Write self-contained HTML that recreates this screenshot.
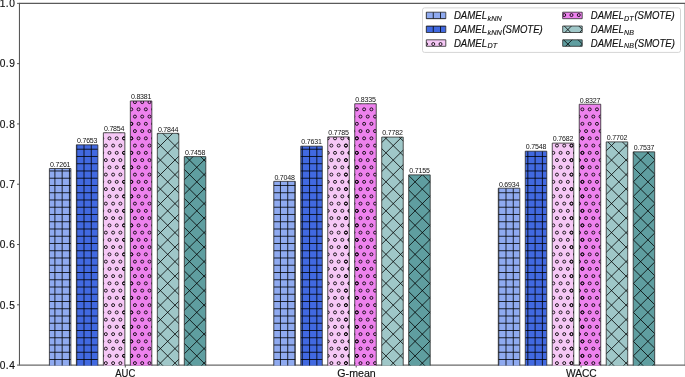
<!DOCTYPE html><html><head><meta charset="utf-8"><style>html,body{margin:0;padding:0;background:#fff;overflow:hidden}svg{display:block;will-change:transform}</style></head><body>
<svg width="685" height="377" viewBox="0 0 685 377" font-family='"Liberation Sans", sans-serif'>
<defs>
<clipPath id="cplus"><rect x="49.4" y="168.49" width="21.5" height="197.06"/><rect x="76.38" y="144.85" width="21.5" height="220.7"/><rect x="273.8" y="181.33" width="21.5" height="184.22"/><rect x="300.78" y="146.18" width="21.5" height="219.37"/><rect x="498.3" y="188.2" width="21.5" height="177.35"/><rect x="525.28" y="151.19" width="21.5" height="214.36"/><rect x="426.3" y="12.2" width="19.5" height="6.5"/><rect x="426.3" y="26" width="19.5" height="6.5"/></clipPath>
<clipPath id="ccirc"><rect x="103.36" y="132.74" width="21.5" height="232.81"/><rect x="130.34" y="100.96" width="21.5" height="264.59"/><rect x="327.76" y="136.9" width="21.5" height="228.65"/><rect x="354.74" y="103.74" width="21.5" height="261.81"/><rect x="552.26" y="143.11" width="21.5" height="222.44"/><rect x="579.24" y="104.22" width="21.5" height="261.33"/><rect x="426.3" y="39.8" width="19.5" height="6.5"/><rect x="562.7" y="12.2" width="19.5" height="6.5"/></clipPath>
<clipPath id="cxx"><rect x="157.32" y="133.34" width="21.5" height="232.21"/><rect x="184.3" y="156.61" width="21.5" height="208.94"/><rect x="381.72" y="137.08" width="21.5" height="228.47"/><rect x="408.7" y="174.88" width="21.5" height="190.67"/><rect x="606.22" y="141.9" width="21.5" height="223.65"/><rect x="633.2" y="151.85" width="21.5" height="213.7"/><rect x="562.7" y="26" width="19.5" height="6.5"/><rect x="562.7" y="39.8" width="19.5" height="6.5"/></clipPath>
</defs>
<rect x="422.5" y="7.9" width="258" height="44.5" rx="2" ry="2" fill="#fff" stroke="#d5d5d5" stroke-width="1"/>
<path d="M684.5 3.35V365.6" stroke="#c4c4c4" stroke-width="1" fill="none"/>
<path d="M19.45 3.35V365.1" stroke="#555" stroke-width="1.05" fill="none"/>
<path d="M18.95 3.35H685" stroke="#5a5a5a" stroke-width="1.05" fill="none"/>
<path d="M18.95 365.1H685" stroke="#6a6a6a" stroke-width="1.05" fill="none"/>
<path d="M17.05 365.1H19.45M17.05 304.81H19.45M17.05 244.52H19.45M17.05 184.23H19.45M17.05 123.93H19.45M17.05 63.64H19.45M17.05 3.35H19.45" stroke="#555" stroke-width="1"/>
<g font-size="10.2" fill="#111" stroke="#111" stroke-width="0.15"><text x="14.8" y="368.9" text-anchor="end" textLength="15.1" lengthAdjust="spacing">0.4</text><text x="14.8" y="308.61" text-anchor="end" textLength="15.1" lengthAdjust="spacing">0.5</text><text x="14.8" y="248.32" text-anchor="end" textLength="15.1" lengthAdjust="spacing">0.6</text><text x="14.8" y="188.03" text-anchor="end" textLength="15.1" lengthAdjust="spacing">0.7</text><text x="14.8" y="127.73" text-anchor="end" textLength="15.1" lengthAdjust="spacing">0.8</text><text x="14.8" y="67.44" text-anchor="end" textLength="15.1" lengthAdjust="spacing">0.9</text><text x="14.8" y="7.15" text-anchor="end" textLength="15.1" lengthAdjust="spacing">1.0</text></g>
<path d="M125.3 365.1V367.5M356.2 365.1V367.5M581.1 365.1V367.5" stroke="#555" stroke-width="1"/>
<g font-size="10.2" fill="#111" stroke="#111" stroke-width="0.15" text-anchor="middle"><text x="125.3" y="377.0" textLength="20.0" lengthAdjust="spacingAndGlyphs">AUC</text><text x="356.55" y="377.0" textLength="38.4" lengthAdjust="spacingAndGlyphs">G-mean</text><text x="581.35" y="377.0" textLength="30.8" lengthAdjust="spacingAndGlyphs">WACC</text></g>
<rect x="49.4" y="168.49" width="21.5" height="197.06" fill="#8faaf0"/><rect x="76.38" y="144.85" width="21.5" height="220.7" fill="#4169e1"/><rect x="103.36" y="132.74" width="21.5" height="232.81" fill="#f6c8f6"/><rect x="130.34" y="100.96" width="21.5" height="264.59" fill="#ee82ee"/><rect x="157.32" y="133.34" width="21.5" height="232.21" fill="#9fc7c8"/><rect x="184.3" y="156.61" width="21.5" height="208.94" fill="#5f9ea0"/><rect x="273.8" y="181.33" width="21.5" height="184.22" fill="#8faaf0"/><rect x="300.78" y="146.18" width="21.5" height="219.37" fill="#4169e1"/><rect x="327.76" y="136.9" width="21.5" height="228.65" fill="#f6c8f6"/><rect x="354.74" y="103.74" width="21.5" height="261.81" fill="#ee82ee"/><rect x="381.72" y="137.08" width="21.5" height="228.47" fill="#9fc7c8"/><rect x="408.7" y="174.88" width="21.5" height="190.67" fill="#5f9ea0"/><rect x="498.3" y="188.2" width="21.5" height="177.35" fill="#8faaf0"/><rect x="525.28" y="151.19" width="21.5" height="214.36" fill="#4169e1"/><rect x="552.26" y="143.11" width="21.5" height="222.44" fill="#f6c8f6"/><rect x="579.24" y="104.22" width="21.5" height="261.33" fill="#ee82ee"/><rect x="606.22" y="141.9" width="21.5" height="223.65" fill="#9fc7c8"/><rect x="633.2" y="151.85" width="21.5" height="213.7" fill="#5f9ea0"/><rect x="426.3" y="12.2" width="19.5" height="6.5" fill="#8faaf0"/><rect x="426.3" y="26" width="19.5" height="6.5" fill="#4169e1"/><rect x="426.3" y="39.8" width="19.5" height="6.5" fill="#f6c8f6"/><rect x="562.7" y="12.2" width="19.5" height="6.5" fill="#ee82ee"/><rect x="562.7" y="26" width="19.5" height="6.5" fill="#9fc7c8"/><rect x="562.7" y="39.8" width="19.5" height="6.5" fill="#5f9ea0"/>
<path clip-path="url(#cplus)" d="M3.96 0V377M11.24 0V377M18.52 0V377M25.79 0V377M33.07 0V377M40.34 0V377M47.62 0V377M54.90 0V377M62.17 0V377M69.45 0V377M76.72 0V377M84.00 0V377M91.27 0V377M98.55 0V377M105.83 0V377M113.10 0V377M120.38 0V377M127.65 0V377M134.93 0V377M142.21 0V377M149.48 0V377M156.76 0V377M164.03 0V377M171.31 0V377M178.59 0V377M185.86 0V377M193.14 0V377M200.41 0V377M207.69 0V377M214.97 0V377M222.24 0V377M229.52 0V377M236.79 0V377M244.07 0V377M251.35 0V377M258.62 0V377M265.90 0V377M273.18 0V377M280.45 0V377M287.73 0V377M295.00 0V377M302.28 0V377M309.56 0V377M316.83 0V377M324.11 0V377M331.38 0V377M338.66 0V377M345.94 0V377M353.21 0V377M360.49 0V377M367.76 0V377M375.04 0V377M382.31 0V377M389.59 0V377M396.87 0V377M404.14 0V377M411.42 0V377M418.69 0V377M425.97 0V377M433.25 0V377M440.52 0V377M447.80 0V377M455.07 0V377M462.35 0V377M469.63 0V377M476.90 0V377M484.18 0V377M491.45 0V377M498.73 0V377M506.01 0V377M513.28 0V377M520.56 0V377M527.83 0V377M535.11 0V377M542.39 0V377M549.66 0V377M556.94 0V377M564.21 0V377M571.49 0V377M578.77 0V377M586.04 0V377M593.32 0V377M600.59 0V377M607.87 0V377M615.15 0V377M622.42 0V377M629.70 0V377M636.97 0V377M644.25 0V377M651.53 0V377M658.80 0V377M666.08 0V377M673.35 0V377M680.63 0V377M0 4.19H685M0 11.44H685M0 18.69H685M0 25.94H685M0 33.20H685M0 40.45H685M0 47.70H685M0 54.95H685M0 62.20H685M0 69.45H685M0 76.70H685M0 83.96H685M0 91.21H685M0 98.46H685M0 105.71H685M0 112.96H685M0 120.21H685M0 127.47H685M0 134.72H685M0 141.97H685M0 149.22H685M0 156.47H685M0 163.72H685M0 170.97H685M0 178.23H685M0 185.48H685M0 192.73H685M0 199.98H685M0 207.23H685M0 214.48H685M0 221.74H685M0 228.99H685M0 236.24H685M0 243.49H685M0 250.74H685M0 257.99H685M0 265.24H685M0 272.50H685M0 279.75H685M0 287.00H685M0 294.25H685M0 301.50H685M0 308.75H685M0 316.00H685M0 323.26H685M0 330.51H685M0 337.76H685M0 345.01H685M0 352.26H685M0 359.51H685M0 366.76H685M0 374.02H685" stroke="#000" stroke-width="0.8" fill="none"/>
<path clip-path="url(#cxx)" d="M-380.60 -2.0L1.69 379.0M-366.05 -2.0L16.24 379.0M-351.50 -2.0L30.79 379.0M-336.94 -2.0L45.34 379.0M-322.39 -2.0L59.90 379.0M-307.84 -2.0L74.45 379.0M-293.29 -2.0L89.00 379.0M-278.74 -2.0L103.55 379.0M-264.18 -2.0L118.10 379.0M-249.63 -2.0L132.66 379.0M-235.08 -2.0L147.21 379.0M-220.53 -2.0L161.76 379.0M-205.98 -2.0L176.31 379.0M-191.42 -2.0L190.86 379.0M-176.87 -2.0L205.42 379.0M-162.32 -2.0L219.97 379.0M-147.77 -2.0L234.52 379.0M-133.22 -2.0L249.07 379.0M-118.66 -2.0L263.62 379.0M-104.11 -2.0L278.18 379.0M-89.56 -2.0L292.73 379.0M-75.01 -2.0L307.28 379.0M-60.46 -2.0L321.83 379.0M-45.90 -2.0L336.38 379.0M-31.35 -2.0L350.94 379.0M-16.80 -2.0L365.49 379.0M2.90 -2.0L-379.39 379.0M-2.25 -2.0L380.04 379.0M17.45 -2.0L-364.84 379.0M12.30 -2.0L394.59 379.0M32.00 -2.0L-350.29 379.0M26.86 -2.0L409.14 379.0M46.55 -2.0L-335.73 379.0M41.41 -2.0L423.70 379.0M61.11 -2.0L-321.18 379.0M55.96 -2.0L438.25 379.0M75.66 -2.0L-306.63 379.0M70.51 -2.0L452.80 379.0M90.21 -2.0L-292.08 379.0M85.06 -2.0L467.35 379.0M104.76 -2.0L-277.53 379.0M99.62 -2.0L481.90 379.0M119.31 -2.0L-262.97 379.0M114.17 -2.0L496.46 379.0M133.87 -2.0L-248.42 379.0M128.72 -2.0L511.01 379.0M148.42 -2.0L-233.87 379.0M143.27 -2.0L525.56 379.0M162.97 -2.0L-219.32 379.0M157.82 -2.0L540.11 379.0M177.52 -2.0L-204.77 379.0M172.38 -2.0L554.66 379.0M192.07 -2.0L-190.21 379.0M186.93 -2.0L569.22 379.0M206.63 -2.0L-175.66 379.0M201.48 -2.0L583.77 379.0M221.18 -2.0L-161.11 379.0M216.03 -2.0L598.32 379.0M235.73 -2.0L-146.56 379.0M230.58 -2.0L612.87 379.0M250.28 -2.0L-132.01 379.0M245.14 -2.0L627.42 379.0M264.83 -2.0L-117.45 379.0M259.69 -2.0L641.98 379.0M279.39 -2.0L-102.90 379.0M274.24 -2.0L656.53 379.0M293.94 -2.0L-88.35 379.0M288.79 -2.0L671.08 379.0M308.49 -2.0L-73.80 379.0M303.34 -2.0L685.63 379.0M323.04 -2.0L-59.25 379.0M317.90 -2.0L700.18 379.0M337.59 -2.0L-44.69 379.0M332.45 -2.0L714.74 379.0M352.15 -2.0L-30.14 379.0M347.00 -2.0L729.29 379.0M366.70 -2.0L-15.59 379.0M361.55 -2.0L743.84 379.0M381.25 -2.0L-1.04 379.0M376.10 -2.0L758.39 379.0M395.80 -2.0L13.51 379.0M390.66 -2.0L772.94 379.0M410.35 -2.0L28.07 379.0M405.21 -2.0L787.50 379.0M424.91 -2.0L42.62 379.0M419.76 -2.0L802.05 379.0M439.46 -2.0L57.17 379.0M434.31 -2.0L816.60 379.0M454.01 -2.0L71.72 379.0M448.86 -2.0L831.15 379.0M468.56 -2.0L86.27 379.0M463.42 -2.0L845.70 379.0M483.11 -2.0L100.83 379.0M477.97 -2.0L860.26 379.0M497.67 -2.0L115.38 379.0M492.52 -2.0L874.81 379.0M512.22 -2.0L129.93 379.0M507.07 -2.0L889.36 379.0M526.77 -2.0L144.48 379.0M521.62 -2.0L903.91 379.0M541.32 -2.0L159.03 379.0M536.18 -2.0L918.46 379.0M555.87 -2.0L173.59 379.0M550.73 -2.0L933.02 379.0M570.43 -2.0L188.14 379.0M565.28 -2.0L947.57 379.0M584.98 -2.0L202.69 379.0M579.83 -2.0L962.12 379.0M599.53 -2.0L217.24 379.0M594.38 -2.0L976.67 379.0M614.08 -2.0L231.79 379.0M608.94 -2.0L991.22 379.0M628.63 -2.0L246.35 379.0M623.49 -2.0L1005.78 379.0M643.19 -2.0L260.90 379.0M638.04 -2.0L1020.33 379.0M657.74 -2.0L275.45 379.0M652.59 -2.0L1034.88 379.0M672.29 -2.0L290.00 379.0M667.14 -2.0L1049.43 379.0M686.84 -2.0L304.55 379.0M681.70 -2.0L1063.98 379.0M701.39 -2.0L319.11 379.0M715.95 -2.0L333.66 379.0M730.50 -2.0L348.21 379.0M745.05 -2.0L362.76 379.0M759.60 -2.0L377.31 379.0M774.15 -2.0L391.87 379.0M788.71 -2.0L406.42 379.0M803.26 -2.0L420.97 379.0M817.81 -2.0L435.52 379.0M832.36 -2.0L450.07 379.0M846.91 -2.0L464.63 379.0M861.47 -2.0L479.18 379.0M876.02 -2.0L493.73 379.0M890.57 -2.0L508.28 379.0M905.12 -2.0L522.83 379.0M919.67 -2.0L537.39 379.0M934.23 -2.0L551.94 379.0M948.78 -2.0L566.49 379.0M963.33 -2.0L581.04 379.0M977.88 -2.0L595.59 379.0M992.43 -2.0L610.15 379.0M1006.99 -2.0L624.70 379.0M1021.54 -2.0L639.25 379.0M1036.09 -2.0L653.80 379.0M1050.64 -2.0L668.35 379.0M1065.19 -2.0L682.91 379.0" stroke="#000" stroke-width="0.8" fill="none"/>
<path clip-path="url(#ccirc)" d="M93.41 123.84a1.5 1.5 0 1 0 3.0 0a1.5 1.5 0 1 0 -3.0 0M100.69 123.84a1.5 1.5 0 1 0 3.0 0a1.5 1.5 0 1 0 -3.0 0M107.96 123.84a1.5 1.5 0 1 0 3.0 0a1.5 1.5 0 1 0 -3.0 0M115.24 123.84a1.5 1.5 0 1 0 3.0 0a1.5 1.5 0 1 0 -3.0 0M122.52 123.84a1.5 1.5 0 1 0 3.0 0a1.5 1.5 0 1 0 -3.0 0M129.79 123.84a1.5 1.5 0 1 0 3.0 0a1.5 1.5 0 1 0 -3.0 0M97.05 131.09a1.5 1.5 0 1 0 3.0 0a1.5 1.5 0 1 0 -3.0 0M104.33 131.09a1.5 1.5 0 1 0 3.0 0a1.5 1.5 0 1 0 -3.0 0M111.60 131.09a1.5 1.5 0 1 0 3.0 0a1.5 1.5 0 1 0 -3.0 0M118.88 131.09a1.5 1.5 0 1 0 3.0 0a1.5 1.5 0 1 0 -3.0 0M126.15 131.09a1.5 1.5 0 1 0 3.0 0a1.5 1.5 0 1 0 -3.0 0M93.41 138.34a1.5 1.5 0 1 0 3.0 0a1.5 1.5 0 1 0 -3.0 0M100.69 138.34a1.5 1.5 0 1 0 3.0 0a1.5 1.5 0 1 0 -3.0 0M107.96 138.34a1.5 1.5 0 1 0 3.0 0a1.5 1.5 0 1 0 -3.0 0M115.24 138.34a1.5 1.5 0 1 0 3.0 0a1.5 1.5 0 1 0 -3.0 0M122.52 138.34a1.5 1.5 0 1 0 3.0 0a1.5 1.5 0 1 0 -3.0 0M129.79 138.34a1.5 1.5 0 1 0 3.0 0a1.5 1.5 0 1 0 -3.0 0M97.05 145.59a1.5 1.5 0 1 0 3.0 0a1.5 1.5 0 1 0 -3.0 0M104.33 145.59a1.5 1.5 0 1 0 3.0 0a1.5 1.5 0 1 0 -3.0 0M111.60 145.59a1.5 1.5 0 1 0 3.0 0a1.5 1.5 0 1 0 -3.0 0M118.88 145.59a1.5 1.5 0 1 0 3.0 0a1.5 1.5 0 1 0 -3.0 0M126.15 145.59a1.5 1.5 0 1 0 3.0 0a1.5 1.5 0 1 0 -3.0 0M93.41 152.85a1.5 1.5 0 1 0 3.0 0a1.5 1.5 0 1 0 -3.0 0M100.69 152.85a1.5 1.5 0 1 0 3.0 0a1.5 1.5 0 1 0 -3.0 0M107.96 152.85a1.5 1.5 0 1 0 3.0 0a1.5 1.5 0 1 0 -3.0 0M115.24 152.85a1.5 1.5 0 1 0 3.0 0a1.5 1.5 0 1 0 -3.0 0M122.52 152.85a1.5 1.5 0 1 0 3.0 0a1.5 1.5 0 1 0 -3.0 0M129.79 152.85a1.5 1.5 0 1 0 3.0 0a1.5 1.5 0 1 0 -3.0 0M97.05 160.10a1.5 1.5 0 1 0 3.0 0a1.5 1.5 0 1 0 -3.0 0M104.33 160.10a1.5 1.5 0 1 0 3.0 0a1.5 1.5 0 1 0 -3.0 0M111.60 160.10a1.5 1.5 0 1 0 3.0 0a1.5 1.5 0 1 0 -3.0 0M118.88 160.10a1.5 1.5 0 1 0 3.0 0a1.5 1.5 0 1 0 -3.0 0M126.15 160.10a1.5 1.5 0 1 0 3.0 0a1.5 1.5 0 1 0 -3.0 0M93.41 167.35a1.5 1.5 0 1 0 3.0 0a1.5 1.5 0 1 0 -3.0 0M100.69 167.35a1.5 1.5 0 1 0 3.0 0a1.5 1.5 0 1 0 -3.0 0M107.96 167.35a1.5 1.5 0 1 0 3.0 0a1.5 1.5 0 1 0 -3.0 0M115.24 167.35a1.5 1.5 0 1 0 3.0 0a1.5 1.5 0 1 0 -3.0 0M122.52 167.35a1.5 1.5 0 1 0 3.0 0a1.5 1.5 0 1 0 -3.0 0M129.79 167.35a1.5 1.5 0 1 0 3.0 0a1.5 1.5 0 1 0 -3.0 0M97.05 174.60a1.5 1.5 0 1 0 3.0 0a1.5 1.5 0 1 0 -3.0 0M104.33 174.60a1.5 1.5 0 1 0 3.0 0a1.5 1.5 0 1 0 -3.0 0M111.60 174.60a1.5 1.5 0 1 0 3.0 0a1.5 1.5 0 1 0 -3.0 0M118.88 174.60a1.5 1.5 0 1 0 3.0 0a1.5 1.5 0 1 0 -3.0 0M126.15 174.60a1.5 1.5 0 1 0 3.0 0a1.5 1.5 0 1 0 -3.0 0M93.41 181.85a1.5 1.5 0 1 0 3.0 0a1.5 1.5 0 1 0 -3.0 0M100.69 181.85a1.5 1.5 0 1 0 3.0 0a1.5 1.5 0 1 0 -3.0 0M107.96 181.85a1.5 1.5 0 1 0 3.0 0a1.5 1.5 0 1 0 -3.0 0M115.24 181.85a1.5 1.5 0 1 0 3.0 0a1.5 1.5 0 1 0 -3.0 0M122.52 181.85a1.5 1.5 0 1 0 3.0 0a1.5 1.5 0 1 0 -3.0 0M129.79 181.85a1.5 1.5 0 1 0 3.0 0a1.5 1.5 0 1 0 -3.0 0M97.05 189.10a1.5 1.5 0 1 0 3.0 0a1.5 1.5 0 1 0 -3.0 0M104.33 189.10a1.5 1.5 0 1 0 3.0 0a1.5 1.5 0 1 0 -3.0 0M111.60 189.10a1.5 1.5 0 1 0 3.0 0a1.5 1.5 0 1 0 -3.0 0M118.88 189.10a1.5 1.5 0 1 0 3.0 0a1.5 1.5 0 1 0 -3.0 0M126.15 189.10a1.5 1.5 0 1 0 3.0 0a1.5 1.5 0 1 0 -3.0 0M93.41 196.35a1.5 1.5 0 1 0 3.0 0a1.5 1.5 0 1 0 -3.0 0M100.69 196.35a1.5 1.5 0 1 0 3.0 0a1.5 1.5 0 1 0 -3.0 0M107.96 196.35a1.5 1.5 0 1 0 3.0 0a1.5 1.5 0 1 0 -3.0 0M115.24 196.35a1.5 1.5 0 1 0 3.0 0a1.5 1.5 0 1 0 -3.0 0M122.52 196.35a1.5 1.5 0 1 0 3.0 0a1.5 1.5 0 1 0 -3.0 0M129.79 196.35a1.5 1.5 0 1 0 3.0 0a1.5 1.5 0 1 0 -3.0 0M97.05 203.61a1.5 1.5 0 1 0 3.0 0a1.5 1.5 0 1 0 -3.0 0M104.33 203.61a1.5 1.5 0 1 0 3.0 0a1.5 1.5 0 1 0 -3.0 0M111.60 203.61a1.5 1.5 0 1 0 3.0 0a1.5 1.5 0 1 0 -3.0 0M118.88 203.61a1.5 1.5 0 1 0 3.0 0a1.5 1.5 0 1 0 -3.0 0M126.15 203.61a1.5 1.5 0 1 0 3.0 0a1.5 1.5 0 1 0 -3.0 0M93.41 210.86a1.5 1.5 0 1 0 3.0 0a1.5 1.5 0 1 0 -3.0 0M100.69 210.86a1.5 1.5 0 1 0 3.0 0a1.5 1.5 0 1 0 -3.0 0M107.96 210.86a1.5 1.5 0 1 0 3.0 0a1.5 1.5 0 1 0 -3.0 0M115.24 210.86a1.5 1.5 0 1 0 3.0 0a1.5 1.5 0 1 0 -3.0 0M122.52 210.86a1.5 1.5 0 1 0 3.0 0a1.5 1.5 0 1 0 -3.0 0M129.79 210.86a1.5 1.5 0 1 0 3.0 0a1.5 1.5 0 1 0 -3.0 0M97.05 218.11a1.5 1.5 0 1 0 3.0 0a1.5 1.5 0 1 0 -3.0 0M104.33 218.11a1.5 1.5 0 1 0 3.0 0a1.5 1.5 0 1 0 -3.0 0M111.60 218.11a1.5 1.5 0 1 0 3.0 0a1.5 1.5 0 1 0 -3.0 0M118.88 218.11a1.5 1.5 0 1 0 3.0 0a1.5 1.5 0 1 0 -3.0 0M126.15 218.11a1.5 1.5 0 1 0 3.0 0a1.5 1.5 0 1 0 -3.0 0M93.41 225.36a1.5 1.5 0 1 0 3.0 0a1.5 1.5 0 1 0 -3.0 0M100.69 225.36a1.5 1.5 0 1 0 3.0 0a1.5 1.5 0 1 0 -3.0 0M107.96 225.36a1.5 1.5 0 1 0 3.0 0a1.5 1.5 0 1 0 -3.0 0M115.24 225.36a1.5 1.5 0 1 0 3.0 0a1.5 1.5 0 1 0 -3.0 0M122.52 225.36a1.5 1.5 0 1 0 3.0 0a1.5 1.5 0 1 0 -3.0 0M129.79 225.36a1.5 1.5 0 1 0 3.0 0a1.5 1.5 0 1 0 -3.0 0M97.05 232.61a1.5 1.5 0 1 0 3.0 0a1.5 1.5 0 1 0 -3.0 0M104.33 232.61a1.5 1.5 0 1 0 3.0 0a1.5 1.5 0 1 0 -3.0 0M111.60 232.61a1.5 1.5 0 1 0 3.0 0a1.5 1.5 0 1 0 -3.0 0M118.88 232.61a1.5 1.5 0 1 0 3.0 0a1.5 1.5 0 1 0 -3.0 0M126.15 232.61a1.5 1.5 0 1 0 3.0 0a1.5 1.5 0 1 0 -3.0 0M93.41 239.86a1.5 1.5 0 1 0 3.0 0a1.5 1.5 0 1 0 -3.0 0M100.69 239.86a1.5 1.5 0 1 0 3.0 0a1.5 1.5 0 1 0 -3.0 0M107.96 239.86a1.5 1.5 0 1 0 3.0 0a1.5 1.5 0 1 0 -3.0 0M115.24 239.86a1.5 1.5 0 1 0 3.0 0a1.5 1.5 0 1 0 -3.0 0M122.52 239.86a1.5 1.5 0 1 0 3.0 0a1.5 1.5 0 1 0 -3.0 0M129.79 239.86a1.5 1.5 0 1 0 3.0 0a1.5 1.5 0 1 0 -3.0 0M97.05 247.12a1.5 1.5 0 1 0 3.0 0a1.5 1.5 0 1 0 -3.0 0M104.33 247.12a1.5 1.5 0 1 0 3.0 0a1.5 1.5 0 1 0 -3.0 0M111.60 247.12a1.5 1.5 0 1 0 3.0 0a1.5 1.5 0 1 0 -3.0 0M118.88 247.12a1.5 1.5 0 1 0 3.0 0a1.5 1.5 0 1 0 -3.0 0M126.15 247.12a1.5 1.5 0 1 0 3.0 0a1.5 1.5 0 1 0 -3.0 0M93.41 254.37a1.5 1.5 0 1 0 3.0 0a1.5 1.5 0 1 0 -3.0 0M100.69 254.37a1.5 1.5 0 1 0 3.0 0a1.5 1.5 0 1 0 -3.0 0M107.96 254.37a1.5 1.5 0 1 0 3.0 0a1.5 1.5 0 1 0 -3.0 0M115.24 254.37a1.5 1.5 0 1 0 3.0 0a1.5 1.5 0 1 0 -3.0 0M122.52 254.37a1.5 1.5 0 1 0 3.0 0a1.5 1.5 0 1 0 -3.0 0M129.79 254.37a1.5 1.5 0 1 0 3.0 0a1.5 1.5 0 1 0 -3.0 0M97.05 261.62a1.5 1.5 0 1 0 3.0 0a1.5 1.5 0 1 0 -3.0 0M104.33 261.62a1.5 1.5 0 1 0 3.0 0a1.5 1.5 0 1 0 -3.0 0M111.60 261.62a1.5 1.5 0 1 0 3.0 0a1.5 1.5 0 1 0 -3.0 0M118.88 261.62a1.5 1.5 0 1 0 3.0 0a1.5 1.5 0 1 0 -3.0 0M126.15 261.62a1.5 1.5 0 1 0 3.0 0a1.5 1.5 0 1 0 -3.0 0M93.41 268.87a1.5 1.5 0 1 0 3.0 0a1.5 1.5 0 1 0 -3.0 0M100.69 268.87a1.5 1.5 0 1 0 3.0 0a1.5 1.5 0 1 0 -3.0 0M107.96 268.87a1.5 1.5 0 1 0 3.0 0a1.5 1.5 0 1 0 -3.0 0M115.24 268.87a1.5 1.5 0 1 0 3.0 0a1.5 1.5 0 1 0 -3.0 0M122.52 268.87a1.5 1.5 0 1 0 3.0 0a1.5 1.5 0 1 0 -3.0 0M129.79 268.87a1.5 1.5 0 1 0 3.0 0a1.5 1.5 0 1 0 -3.0 0M97.05 276.12a1.5 1.5 0 1 0 3.0 0a1.5 1.5 0 1 0 -3.0 0M104.33 276.12a1.5 1.5 0 1 0 3.0 0a1.5 1.5 0 1 0 -3.0 0M111.60 276.12a1.5 1.5 0 1 0 3.0 0a1.5 1.5 0 1 0 -3.0 0M118.88 276.12a1.5 1.5 0 1 0 3.0 0a1.5 1.5 0 1 0 -3.0 0M126.15 276.12a1.5 1.5 0 1 0 3.0 0a1.5 1.5 0 1 0 -3.0 0M93.41 283.37a1.5 1.5 0 1 0 3.0 0a1.5 1.5 0 1 0 -3.0 0M100.69 283.37a1.5 1.5 0 1 0 3.0 0a1.5 1.5 0 1 0 -3.0 0M107.96 283.37a1.5 1.5 0 1 0 3.0 0a1.5 1.5 0 1 0 -3.0 0M115.24 283.37a1.5 1.5 0 1 0 3.0 0a1.5 1.5 0 1 0 -3.0 0M122.52 283.37a1.5 1.5 0 1 0 3.0 0a1.5 1.5 0 1 0 -3.0 0M129.79 283.37a1.5 1.5 0 1 0 3.0 0a1.5 1.5 0 1 0 -3.0 0M97.05 290.62a1.5 1.5 0 1 0 3.0 0a1.5 1.5 0 1 0 -3.0 0M104.33 290.62a1.5 1.5 0 1 0 3.0 0a1.5 1.5 0 1 0 -3.0 0M111.60 290.62a1.5 1.5 0 1 0 3.0 0a1.5 1.5 0 1 0 -3.0 0M118.88 290.62a1.5 1.5 0 1 0 3.0 0a1.5 1.5 0 1 0 -3.0 0M126.15 290.62a1.5 1.5 0 1 0 3.0 0a1.5 1.5 0 1 0 -3.0 0M93.41 297.88a1.5 1.5 0 1 0 3.0 0a1.5 1.5 0 1 0 -3.0 0M100.69 297.88a1.5 1.5 0 1 0 3.0 0a1.5 1.5 0 1 0 -3.0 0M107.96 297.88a1.5 1.5 0 1 0 3.0 0a1.5 1.5 0 1 0 -3.0 0M115.24 297.88a1.5 1.5 0 1 0 3.0 0a1.5 1.5 0 1 0 -3.0 0M122.52 297.88a1.5 1.5 0 1 0 3.0 0a1.5 1.5 0 1 0 -3.0 0M129.79 297.88a1.5 1.5 0 1 0 3.0 0a1.5 1.5 0 1 0 -3.0 0M97.05 305.13a1.5 1.5 0 1 0 3.0 0a1.5 1.5 0 1 0 -3.0 0M104.33 305.13a1.5 1.5 0 1 0 3.0 0a1.5 1.5 0 1 0 -3.0 0M111.60 305.13a1.5 1.5 0 1 0 3.0 0a1.5 1.5 0 1 0 -3.0 0M118.88 305.13a1.5 1.5 0 1 0 3.0 0a1.5 1.5 0 1 0 -3.0 0M126.15 305.13a1.5 1.5 0 1 0 3.0 0a1.5 1.5 0 1 0 -3.0 0M93.41 312.38a1.5 1.5 0 1 0 3.0 0a1.5 1.5 0 1 0 -3.0 0M100.69 312.38a1.5 1.5 0 1 0 3.0 0a1.5 1.5 0 1 0 -3.0 0M107.96 312.38a1.5 1.5 0 1 0 3.0 0a1.5 1.5 0 1 0 -3.0 0M115.24 312.38a1.5 1.5 0 1 0 3.0 0a1.5 1.5 0 1 0 -3.0 0M122.52 312.38a1.5 1.5 0 1 0 3.0 0a1.5 1.5 0 1 0 -3.0 0M129.79 312.38a1.5 1.5 0 1 0 3.0 0a1.5 1.5 0 1 0 -3.0 0M97.05 319.63a1.5 1.5 0 1 0 3.0 0a1.5 1.5 0 1 0 -3.0 0M104.33 319.63a1.5 1.5 0 1 0 3.0 0a1.5 1.5 0 1 0 -3.0 0M111.60 319.63a1.5 1.5 0 1 0 3.0 0a1.5 1.5 0 1 0 -3.0 0M118.88 319.63a1.5 1.5 0 1 0 3.0 0a1.5 1.5 0 1 0 -3.0 0M126.15 319.63a1.5 1.5 0 1 0 3.0 0a1.5 1.5 0 1 0 -3.0 0M93.41 326.88a1.5 1.5 0 1 0 3.0 0a1.5 1.5 0 1 0 -3.0 0M100.69 326.88a1.5 1.5 0 1 0 3.0 0a1.5 1.5 0 1 0 -3.0 0M107.96 326.88a1.5 1.5 0 1 0 3.0 0a1.5 1.5 0 1 0 -3.0 0M115.24 326.88a1.5 1.5 0 1 0 3.0 0a1.5 1.5 0 1 0 -3.0 0M122.52 326.88a1.5 1.5 0 1 0 3.0 0a1.5 1.5 0 1 0 -3.0 0M129.79 326.88a1.5 1.5 0 1 0 3.0 0a1.5 1.5 0 1 0 -3.0 0M97.05 334.13a1.5 1.5 0 1 0 3.0 0a1.5 1.5 0 1 0 -3.0 0M104.33 334.13a1.5 1.5 0 1 0 3.0 0a1.5 1.5 0 1 0 -3.0 0M111.60 334.13a1.5 1.5 0 1 0 3.0 0a1.5 1.5 0 1 0 -3.0 0M118.88 334.13a1.5 1.5 0 1 0 3.0 0a1.5 1.5 0 1 0 -3.0 0M126.15 334.13a1.5 1.5 0 1 0 3.0 0a1.5 1.5 0 1 0 -3.0 0M93.41 341.38a1.5 1.5 0 1 0 3.0 0a1.5 1.5 0 1 0 -3.0 0M100.69 341.38a1.5 1.5 0 1 0 3.0 0a1.5 1.5 0 1 0 -3.0 0M107.96 341.38a1.5 1.5 0 1 0 3.0 0a1.5 1.5 0 1 0 -3.0 0M115.24 341.38a1.5 1.5 0 1 0 3.0 0a1.5 1.5 0 1 0 -3.0 0M122.52 341.38a1.5 1.5 0 1 0 3.0 0a1.5 1.5 0 1 0 -3.0 0M129.79 341.38a1.5 1.5 0 1 0 3.0 0a1.5 1.5 0 1 0 -3.0 0M97.05 348.64a1.5 1.5 0 1 0 3.0 0a1.5 1.5 0 1 0 -3.0 0M104.33 348.64a1.5 1.5 0 1 0 3.0 0a1.5 1.5 0 1 0 -3.0 0M111.60 348.64a1.5 1.5 0 1 0 3.0 0a1.5 1.5 0 1 0 -3.0 0M118.88 348.64a1.5 1.5 0 1 0 3.0 0a1.5 1.5 0 1 0 -3.0 0M126.15 348.64a1.5 1.5 0 1 0 3.0 0a1.5 1.5 0 1 0 -3.0 0M93.41 355.89a1.5 1.5 0 1 0 3.0 0a1.5 1.5 0 1 0 -3.0 0M100.69 355.89a1.5 1.5 0 1 0 3.0 0a1.5 1.5 0 1 0 -3.0 0M107.96 355.89a1.5 1.5 0 1 0 3.0 0a1.5 1.5 0 1 0 -3.0 0M115.24 355.89a1.5 1.5 0 1 0 3.0 0a1.5 1.5 0 1 0 -3.0 0M122.52 355.89a1.5 1.5 0 1 0 3.0 0a1.5 1.5 0 1 0 -3.0 0M129.79 355.89a1.5 1.5 0 1 0 3.0 0a1.5 1.5 0 1 0 -3.0 0M97.05 363.14a1.5 1.5 0 1 0 3.0 0a1.5 1.5 0 1 0 -3.0 0M104.33 363.14a1.5 1.5 0 1 0 3.0 0a1.5 1.5 0 1 0 -3.0 0M111.60 363.14a1.5 1.5 0 1 0 3.0 0a1.5 1.5 0 1 0 -3.0 0M118.88 363.14a1.5 1.5 0 1 0 3.0 0a1.5 1.5 0 1 0 -3.0 0M126.15 363.14a1.5 1.5 0 1 0 3.0 0a1.5 1.5 0 1 0 -3.0 0M93.41 370.39a1.5 1.5 0 1 0 3.0 0a1.5 1.5 0 1 0 -3.0 0M100.69 370.39a1.5 1.5 0 1 0 3.0 0a1.5 1.5 0 1 0 -3.0 0M107.96 370.39a1.5 1.5 0 1 0 3.0 0a1.5 1.5 0 1 0 -3.0 0M115.24 370.39a1.5 1.5 0 1 0 3.0 0a1.5 1.5 0 1 0 -3.0 0M122.52 370.39a1.5 1.5 0 1 0 3.0 0a1.5 1.5 0 1 0 -3.0 0M129.79 370.39a1.5 1.5 0 1 0 3.0 0a1.5 1.5 0 1 0 -3.0 0M122.52 94.83a1.5 1.5 0 1 0 3.0 0a1.5 1.5 0 1 0 -3.0 0M129.79 94.83a1.5 1.5 0 1 0 3.0 0a1.5 1.5 0 1 0 -3.0 0M137.07 94.83a1.5 1.5 0 1 0 3.0 0a1.5 1.5 0 1 0 -3.0 0M144.34 94.83a1.5 1.5 0 1 0 3.0 0a1.5 1.5 0 1 0 -3.0 0M151.62 94.83a1.5 1.5 0 1 0 3.0 0a1.5 1.5 0 1 0 -3.0 0M158.90 94.83a1.5 1.5 0 1 0 3.0 0a1.5 1.5 0 1 0 -3.0 0M126.15 102.09a1.5 1.5 0 1 0 3.0 0a1.5 1.5 0 1 0 -3.0 0M133.43 102.09a1.5 1.5 0 1 0 3.0 0a1.5 1.5 0 1 0 -3.0 0M140.71 102.09a1.5 1.5 0 1 0 3.0 0a1.5 1.5 0 1 0 -3.0 0M147.98 102.09a1.5 1.5 0 1 0 3.0 0a1.5 1.5 0 1 0 -3.0 0M155.26 102.09a1.5 1.5 0 1 0 3.0 0a1.5 1.5 0 1 0 -3.0 0M122.52 109.34a1.5 1.5 0 1 0 3.0 0a1.5 1.5 0 1 0 -3.0 0M129.79 109.34a1.5 1.5 0 1 0 3.0 0a1.5 1.5 0 1 0 -3.0 0M137.07 109.34a1.5 1.5 0 1 0 3.0 0a1.5 1.5 0 1 0 -3.0 0M144.34 109.34a1.5 1.5 0 1 0 3.0 0a1.5 1.5 0 1 0 -3.0 0M151.62 109.34a1.5 1.5 0 1 0 3.0 0a1.5 1.5 0 1 0 -3.0 0M158.90 109.34a1.5 1.5 0 1 0 3.0 0a1.5 1.5 0 1 0 -3.0 0M126.15 116.59a1.5 1.5 0 1 0 3.0 0a1.5 1.5 0 1 0 -3.0 0M133.43 116.59a1.5 1.5 0 1 0 3.0 0a1.5 1.5 0 1 0 -3.0 0M140.71 116.59a1.5 1.5 0 1 0 3.0 0a1.5 1.5 0 1 0 -3.0 0M147.98 116.59a1.5 1.5 0 1 0 3.0 0a1.5 1.5 0 1 0 -3.0 0M155.26 116.59a1.5 1.5 0 1 0 3.0 0a1.5 1.5 0 1 0 -3.0 0M122.52 123.84a1.5 1.5 0 1 0 3.0 0a1.5 1.5 0 1 0 -3.0 0M129.79 123.84a1.5 1.5 0 1 0 3.0 0a1.5 1.5 0 1 0 -3.0 0M137.07 123.84a1.5 1.5 0 1 0 3.0 0a1.5 1.5 0 1 0 -3.0 0M144.34 123.84a1.5 1.5 0 1 0 3.0 0a1.5 1.5 0 1 0 -3.0 0M151.62 123.84a1.5 1.5 0 1 0 3.0 0a1.5 1.5 0 1 0 -3.0 0M158.90 123.84a1.5 1.5 0 1 0 3.0 0a1.5 1.5 0 1 0 -3.0 0M126.15 131.09a1.5 1.5 0 1 0 3.0 0a1.5 1.5 0 1 0 -3.0 0M133.43 131.09a1.5 1.5 0 1 0 3.0 0a1.5 1.5 0 1 0 -3.0 0M140.71 131.09a1.5 1.5 0 1 0 3.0 0a1.5 1.5 0 1 0 -3.0 0M147.98 131.09a1.5 1.5 0 1 0 3.0 0a1.5 1.5 0 1 0 -3.0 0M155.26 131.09a1.5 1.5 0 1 0 3.0 0a1.5 1.5 0 1 0 -3.0 0M122.52 138.34a1.5 1.5 0 1 0 3.0 0a1.5 1.5 0 1 0 -3.0 0M129.79 138.34a1.5 1.5 0 1 0 3.0 0a1.5 1.5 0 1 0 -3.0 0M137.07 138.34a1.5 1.5 0 1 0 3.0 0a1.5 1.5 0 1 0 -3.0 0M144.34 138.34a1.5 1.5 0 1 0 3.0 0a1.5 1.5 0 1 0 -3.0 0M151.62 138.34a1.5 1.5 0 1 0 3.0 0a1.5 1.5 0 1 0 -3.0 0M158.90 138.34a1.5 1.5 0 1 0 3.0 0a1.5 1.5 0 1 0 -3.0 0M126.15 145.59a1.5 1.5 0 1 0 3.0 0a1.5 1.5 0 1 0 -3.0 0M133.43 145.59a1.5 1.5 0 1 0 3.0 0a1.5 1.5 0 1 0 -3.0 0M140.71 145.59a1.5 1.5 0 1 0 3.0 0a1.5 1.5 0 1 0 -3.0 0M147.98 145.59a1.5 1.5 0 1 0 3.0 0a1.5 1.5 0 1 0 -3.0 0M155.26 145.59a1.5 1.5 0 1 0 3.0 0a1.5 1.5 0 1 0 -3.0 0M122.52 152.85a1.5 1.5 0 1 0 3.0 0a1.5 1.5 0 1 0 -3.0 0M129.79 152.85a1.5 1.5 0 1 0 3.0 0a1.5 1.5 0 1 0 -3.0 0M137.07 152.85a1.5 1.5 0 1 0 3.0 0a1.5 1.5 0 1 0 -3.0 0M144.34 152.85a1.5 1.5 0 1 0 3.0 0a1.5 1.5 0 1 0 -3.0 0M151.62 152.85a1.5 1.5 0 1 0 3.0 0a1.5 1.5 0 1 0 -3.0 0M158.90 152.85a1.5 1.5 0 1 0 3.0 0a1.5 1.5 0 1 0 -3.0 0M126.15 160.10a1.5 1.5 0 1 0 3.0 0a1.5 1.5 0 1 0 -3.0 0M133.43 160.10a1.5 1.5 0 1 0 3.0 0a1.5 1.5 0 1 0 -3.0 0M140.71 160.10a1.5 1.5 0 1 0 3.0 0a1.5 1.5 0 1 0 -3.0 0M147.98 160.10a1.5 1.5 0 1 0 3.0 0a1.5 1.5 0 1 0 -3.0 0M155.26 160.10a1.5 1.5 0 1 0 3.0 0a1.5 1.5 0 1 0 -3.0 0M122.52 167.35a1.5 1.5 0 1 0 3.0 0a1.5 1.5 0 1 0 -3.0 0M129.79 167.35a1.5 1.5 0 1 0 3.0 0a1.5 1.5 0 1 0 -3.0 0M137.07 167.35a1.5 1.5 0 1 0 3.0 0a1.5 1.5 0 1 0 -3.0 0M144.34 167.35a1.5 1.5 0 1 0 3.0 0a1.5 1.5 0 1 0 -3.0 0M151.62 167.35a1.5 1.5 0 1 0 3.0 0a1.5 1.5 0 1 0 -3.0 0M158.90 167.35a1.5 1.5 0 1 0 3.0 0a1.5 1.5 0 1 0 -3.0 0M126.15 174.60a1.5 1.5 0 1 0 3.0 0a1.5 1.5 0 1 0 -3.0 0M133.43 174.60a1.5 1.5 0 1 0 3.0 0a1.5 1.5 0 1 0 -3.0 0M140.71 174.60a1.5 1.5 0 1 0 3.0 0a1.5 1.5 0 1 0 -3.0 0M147.98 174.60a1.5 1.5 0 1 0 3.0 0a1.5 1.5 0 1 0 -3.0 0M155.26 174.60a1.5 1.5 0 1 0 3.0 0a1.5 1.5 0 1 0 -3.0 0M122.52 181.85a1.5 1.5 0 1 0 3.0 0a1.5 1.5 0 1 0 -3.0 0M129.79 181.85a1.5 1.5 0 1 0 3.0 0a1.5 1.5 0 1 0 -3.0 0M137.07 181.85a1.5 1.5 0 1 0 3.0 0a1.5 1.5 0 1 0 -3.0 0M144.34 181.85a1.5 1.5 0 1 0 3.0 0a1.5 1.5 0 1 0 -3.0 0M151.62 181.85a1.5 1.5 0 1 0 3.0 0a1.5 1.5 0 1 0 -3.0 0M158.90 181.85a1.5 1.5 0 1 0 3.0 0a1.5 1.5 0 1 0 -3.0 0M126.15 189.10a1.5 1.5 0 1 0 3.0 0a1.5 1.5 0 1 0 -3.0 0M133.43 189.10a1.5 1.5 0 1 0 3.0 0a1.5 1.5 0 1 0 -3.0 0M140.71 189.10a1.5 1.5 0 1 0 3.0 0a1.5 1.5 0 1 0 -3.0 0M147.98 189.10a1.5 1.5 0 1 0 3.0 0a1.5 1.5 0 1 0 -3.0 0M155.26 189.10a1.5 1.5 0 1 0 3.0 0a1.5 1.5 0 1 0 -3.0 0M122.52 196.35a1.5 1.5 0 1 0 3.0 0a1.5 1.5 0 1 0 -3.0 0M129.79 196.35a1.5 1.5 0 1 0 3.0 0a1.5 1.5 0 1 0 -3.0 0M137.07 196.35a1.5 1.5 0 1 0 3.0 0a1.5 1.5 0 1 0 -3.0 0M144.34 196.35a1.5 1.5 0 1 0 3.0 0a1.5 1.5 0 1 0 -3.0 0M151.62 196.35a1.5 1.5 0 1 0 3.0 0a1.5 1.5 0 1 0 -3.0 0M158.90 196.35a1.5 1.5 0 1 0 3.0 0a1.5 1.5 0 1 0 -3.0 0M126.15 203.61a1.5 1.5 0 1 0 3.0 0a1.5 1.5 0 1 0 -3.0 0M133.43 203.61a1.5 1.5 0 1 0 3.0 0a1.5 1.5 0 1 0 -3.0 0M140.71 203.61a1.5 1.5 0 1 0 3.0 0a1.5 1.5 0 1 0 -3.0 0M147.98 203.61a1.5 1.5 0 1 0 3.0 0a1.5 1.5 0 1 0 -3.0 0M155.26 203.61a1.5 1.5 0 1 0 3.0 0a1.5 1.5 0 1 0 -3.0 0M122.52 210.86a1.5 1.5 0 1 0 3.0 0a1.5 1.5 0 1 0 -3.0 0M129.79 210.86a1.5 1.5 0 1 0 3.0 0a1.5 1.5 0 1 0 -3.0 0M137.07 210.86a1.5 1.5 0 1 0 3.0 0a1.5 1.5 0 1 0 -3.0 0M144.34 210.86a1.5 1.5 0 1 0 3.0 0a1.5 1.5 0 1 0 -3.0 0M151.62 210.86a1.5 1.5 0 1 0 3.0 0a1.5 1.5 0 1 0 -3.0 0M158.90 210.86a1.5 1.5 0 1 0 3.0 0a1.5 1.5 0 1 0 -3.0 0M126.15 218.11a1.5 1.5 0 1 0 3.0 0a1.5 1.5 0 1 0 -3.0 0M133.43 218.11a1.5 1.5 0 1 0 3.0 0a1.5 1.5 0 1 0 -3.0 0M140.71 218.11a1.5 1.5 0 1 0 3.0 0a1.5 1.5 0 1 0 -3.0 0M147.98 218.11a1.5 1.5 0 1 0 3.0 0a1.5 1.5 0 1 0 -3.0 0M155.26 218.11a1.5 1.5 0 1 0 3.0 0a1.5 1.5 0 1 0 -3.0 0M122.52 225.36a1.5 1.5 0 1 0 3.0 0a1.5 1.5 0 1 0 -3.0 0M129.79 225.36a1.5 1.5 0 1 0 3.0 0a1.5 1.5 0 1 0 -3.0 0M137.07 225.36a1.5 1.5 0 1 0 3.0 0a1.5 1.5 0 1 0 -3.0 0M144.34 225.36a1.5 1.5 0 1 0 3.0 0a1.5 1.5 0 1 0 -3.0 0M151.62 225.36a1.5 1.5 0 1 0 3.0 0a1.5 1.5 0 1 0 -3.0 0M158.90 225.36a1.5 1.5 0 1 0 3.0 0a1.5 1.5 0 1 0 -3.0 0M126.15 232.61a1.5 1.5 0 1 0 3.0 0a1.5 1.5 0 1 0 -3.0 0M133.43 232.61a1.5 1.5 0 1 0 3.0 0a1.5 1.5 0 1 0 -3.0 0M140.71 232.61a1.5 1.5 0 1 0 3.0 0a1.5 1.5 0 1 0 -3.0 0M147.98 232.61a1.5 1.5 0 1 0 3.0 0a1.5 1.5 0 1 0 -3.0 0M155.26 232.61a1.5 1.5 0 1 0 3.0 0a1.5 1.5 0 1 0 -3.0 0M122.52 239.86a1.5 1.5 0 1 0 3.0 0a1.5 1.5 0 1 0 -3.0 0M129.79 239.86a1.5 1.5 0 1 0 3.0 0a1.5 1.5 0 1 0 -3.0 0M137.07 239.86a1.5 1.5 0 1 0 3.0 0a1.5 1.5 0 1 0 -3.0 0M144.34 239.86a1.5 1.5 0 1 0 3.0 0a1.5 1.5 0 1 0 -3.0 0M151.62 239.86a1.5 1.5 0 1 0 3.0 0a1.5 1.5 0 1 0 -3.0 0M158.90 239.86a1.5 1.5 0 1 0 3.0 0a1.5 1.5 0 1 0 -3.0 0M126.15 247.12a1.5 1.5 0 1 0 3.0 0a1.5 1.5 0 1 0 -3.0 0M133.43 247.12a1.5 1.5 0 1 0 3.0 0a1.5 1.5 0 1 0 -3.0 0M140.71 247.12a1.5 1.5 0 1 0 3.0 0a1.5 1.5 0 1 0 -3.0 0M147.98 247.12a1.5 1.5 0 1 0 3.0 0a1.5 1.5 0 1 0 -3.0 0M155.26 247.12a1.5 1.5 0 1 0 3.0 0a1.5 1.5 0 1 0 -3.0 0M122.52 254.37a1.5 1.5 0 1 0 3.0 0a1.5 1.5 0 1 0 -3.0 0M129.79 254.37a1.5 1.5 0 1 0 3.0 0a1.5 1.5 0 1 0 -3.0 0M137.07 254.37a1.5 1.5 0 1 0 3.0 0a1.5 1.5 0 1 0 -3.0 0M144.34 254.37a1.5 1.5 0 1 0 3.0 0a1.5 1.5 0 1 0 -3.0 0M151.62 254.37a1.5 1.5 0 1 0 3.0 0a1.5 1.5 0 1 0 -3.0 0M158.90 254.37a1.5 1.5 0 1 0 3.0 0a1.5 1.5 0 1 0 -3.0 0M126.15 261.62a1.5 1.5 0 1 0 3.0 0a1.5 1.5 0 1 0 -3.0 0M133.43 261.62a1.5 1.5 0 1 0 3.0 0a1.5 1.5 0 1 0 -3.0 0M140.71 261.62a1.5 1.5 0 1 0 3.0 0a1.5 1.5 0 1 0 -3.0 0M147.98 261.62a1.5 1.5 0 1 0 3.0 0a1.5 1.5 0 1 0 -3.0 0M155.26 261.62a1.5 1.5 0 1 0 3.0 0a1.5 1.5 0 1 0 -3.0 0M122.52 268.87a1.5 1.5 0 1 0 3.0 0a1.5 1.5 0 1 0 -3.0 0M129.79 268.87a1.5 1.5 0 1 0 3.0 0a1.5 1.5 0 1 0 -3.0 0M137.07 268.87a1.5 1.5 0 1 0 3.0 0a1.5 1.5 0 1 0 -3.0 0M144.34 268.87a1.5 1.5 0 1 0 3.0 0a1.5 1.5 0 1 0 -3.0 0M151.62 268.87a1.5 1.5 0 1 0 3.0 0a1.5 1.5 0 1 0 -3.0 0M158.90 268.87a1.5 1.5 0 1 0 3.0 0a1.5 1.5 0 1 0 -3.0 0M126.15 276.12a1.5 1.5 0 1 0 3.0 0a1.5 1.5 0 1 0 -3.0 0M133.43 276.12a1.5 1.5 0 1 0 3.0 0a1.5 1.5 0 1 0 -3.0 0M140.71 276.12a1.5 1.5 0 1 0 3.0 0a1.5 1.5 0 1 0 -3.0 0M147.98 276.12a1.5 1.5 0 1 0 3.0 0a1.5 1.5 0 1 0 -3.0 0M155.26 276.12a1.5 1.5 0 1 0 3.0 0a1.5 1.5 0 1 0 -3.0 0M122.52 283.37a1.5 1.5 0 1 0 3.0 0a1.5 1.5 0 1 0 -3.0 0M129.79 283.37a1.5 1.5 0 1 0 3.0 0a1.5 1.5 0 1 0 -3.0 0M137.07 283.37a1.5 1.5 0 1 0 3.0 0a1.5 1.5 0 1 0 -3.0 0M144.34 283.37a1.5 1.5 0 1 0 3.0 0a1.5 1.5 0 1 0 -3.0 0M151.62 283.37a1.5 1.5 0 1 0 3.0 0a1.5 1.5 0 1 0 -3.0 0M158.90 283.37a1.5 1.5 0 1 0 3.0 0a1.5 1.5 0 1 0 -3.0 0M126.15 290.62a1.5 1.5 0 1 0 3.0 0a1.5 1.5 0 1 0 -3.0 0M133.43 290.62a1.5 1.5 0 1 0 3.0 0a1.5 1.5 0 1 0 -3.0 0M140.71 290.62a1.5 1.5 0 1 0 3.0 0a1.5 1.5 0 1 0 -3.0 0M147.98 290.62a1.5 1.5 0 1 0 3.0 0a1.5 1.5 0 1 0 -3.0 0M155.26 290.62a1.5 1.5 0 1 0 3.0 0a1.5 1.5 0 1 0 -3.0 0M122.52 297.88a1.5 1.5 0 1 0 3.0 0a1.5 1.5 0 1 0 -3.0 0M129.79 297.88a1.5 1.5 0 1 0 3.0 0a1.5 1.5 0 1 0 -3.0 0M137.07 297.88a1.5 1.5 0 1 0 3.0 0a1.5 1.5 0 1 0 -3.0 0M144.34 297.88a1.5 1.5 0 1 0 3.0 0a1.5 1.5 0 1 0 -3.0 0M151.62 297.88a1.5 1.5 0 1 0 3.0 0a1.5 1.5 0 1 0 -3.0 0M158.90 297.88a1.5 1.5 0 1 0 3.0 0a1.5 1.5 0 1 0 -3.0 0M126.15 305.13a1.5 1.5 0 1 0 3.0 0a1.5 1.5 0 1 0 -3.0 0M133.43 305.13a1.5 1.5 0 1 0 3.0 0a1.5 1.5 0 1 0 -3.0 0M140.71 305.13a1.5 1.5 0 1 0 3.0 0a1.5 1.5 0 1 0 -3.0 0M147.98 305.13a1.5 1.5 0 1 0 3.0 0a1.5 1.5 0 1 0 -3.0 0M155.26 305.13a1.5 1.5 0 1 0 3.0 0a1.5 1.5 0 1 0 -3.0 0M122.52 312.38a1.5 1.5 0 1 0 3.0 0a1.5 1.5 0 1 0 -3.0 0M129.79 312.38a1.5 1.5 0 1 0 3.0 0a1.5 1.5 0 1 0 -3.0 0M137.07 312.38a1.5 1.5 0 1 0 3.0 0a1.5 1.5 0 1 0 -3.0 0M144.34 312.38a1.5 1.5 0 1 0 3.0 0a1.5 1.5 0 1 0 -3.0 0M151.62 312.38a1.5 1.5 0 1 0 3.0 0a1.5 1.5 0 1 0 -3.0 0M158.90 312.38a1.5 1.5 0 1 0 3.0 0a1.5 1.5 0 1 0 -3.0 0M126.15 319.63a1.5 1.5 0 1 0 3.0 0a1.5 1.5 0 1 0 -3.0 0M133.43 319.63a1.5 1.5 0 1 0 3.0 0a1.5 1.5 0 1 0 -3.0 0M140.71 319.63a1.5 1.5 0 1 0 3.0 0a1.5 1.5 0 1 0 -3.0 0M147.98 319.63a1.5 1.5 0 1 0 3.0 0a1.5 1.5 0 1 0 -3.0 0M155.26 319.63a1.5 1.5 0 1 0 3.0 0a1.5 1.5 0 1 0 -3.0 0M122.52 326.88a1.5 1.5 0 1 0 3.0 0a1.5 1.5 0 1 0 -3.0 0M129.79 326.88a1.5 1.5 0 1 0 3.0 0a1.5 1.5 0 1 0 -3.0 0M137.07 326.88a1.5 1.5 0 1 0 3.0 0a1.5 1.5 0 1 0 -3.0 0M144.34 326.88a1.5 1.5 0 1 0 3.0 0a1.5 1.5 0 1 0 -3.0 0M151.62 326.88a1.5 1.5 0 1 0 3.0 0a1.5 1.5 0 1 0 -3.0 0M158.90 326.88a1.5 1.5 0 1 0 3.0 0a1.5 1.5 0 1 0 -3.0 0M126.15 334.13a1.5 1.5 0 1 0 3.0 0a1.5 1.5 0 1 0 -3.0 0M133.43 334.13a1.5 1.5 0 1 0 3.0 0a1.5 1.5 0 1 0 -3.0 0M140.71 334.13a1.5 1.5 0 1 0 3.0 0a1.5 1.5 0 1 0 -3.0 0M147.98 334.13a1.5 1.5 0 1 0 3.0 0a1.5 1.5 0 1 0 -3.0 0M155.26 334.13a1.5 1.5 0 1 0 3.0 0a1.5 1.5 0 1 0 -3.0 0M122.52 341.38a1.5 1.5 0 1 0 3.0 0a1.5 1.5 0 1 0 -3.0 0M129.79 341.38a1.5 1.5 0 1 0 3.0 0a1.5 1.5 0 1 0 -3.0 0M137.07 341.38a1.5 1.5 0 1 0 3.0 0a1.5 1.5 0 1 0 -3.0 0M144.34 341.38a1.5 1.5 0 1 0 3.0 0a1.5 1.5 0 1 0 -3.0 0M151.62 341.38a1.5 1.5 0 1 0 3.0 0a1.5 1.5 0 1 0 -3.0 0M158.90 341.38a1.5 1.5 0 1 0 3.0 0a1.5 1.5 0 1 0 -3.0 0M126.15 348.64a1.5 1.5 0 1 0 3.0 0a1.5 1.5 0 1 0 -3.0 0M133.43 348.64a1.5 1.5 0 1 0 3.0 0a1.5 1.5 0 1 0 -3.0 0M140.71 348.64a1.5 1.5 0 1 0 3.0 0a1.5 1.5 0 1 0 -3.0 0M147.98 348.64a1.5 1.5 0 1 0 3.0 0a1.5 1.5 0 1 0 -3.0 0M155.26 348.64a1.5 1.5 0 1 0 3.0 0a1.5 1.5 0 1 0 -3.0 0M122.52 355.89a1.5 1.5 0 1 0 3.0 0a1.5 1.5 0 1 0 -3.0 0M129.79 355.89a1.5 1.5 0 1 0 3.0 0a1.5 1.5 0 1 0 -3.0 0M137.07 355.89a1.5 1.5 0 1 0 3.0 0a1.5 1.5 0 1 0 -3.0 0M144.34 355.89a1.5 1.5 0 1 0 3.0 0a1.5 1.5 0 1 0 -3.0 0M151.62 355.89a1.5 1.5 0 1 0 3.0 0a1.5 1.5 0 1 0 -3.0 0M158.90 355.89a1.5 1.5 0 1 0 3.0 0a1.5 1.5 0 1 0 -3.0 0M126.15 363.14a1.5 1.5 0 1 0 3.0 0a1.5 1.5 0 1 0 -3.0 0M133.43 363.14a1.5 1.5 0 1 0 3.0 0a1.5 1.5 0 1 0 -3.0 0M140.71 363.14a1.5 1.5 0 1 0 3.0 0a1.5 1.5 0 1 0 -3.0 0M147.98 363.14a1.5 1.5 0 1 0 3.0 0a1.5 1.5 0 1 0 -3.0 0M155.26 363.14a1.5 1.5 0 1 0 3.0 0a1.5 1.5 0 1 0 -3.0 0M122.52 370.39a1.5 1.5 0 1 0 3.0 0a1.5 1.5 0 1 0 -3.0 0M129.79 370.39a1.5 1.5 0 1 0 3.0 0a1.5 1.5 0 1 0 -3.0 0M137.07 370.39a1.5 1.5 0 1 0 3.0 0a1.5 1.5 0 1 0 -3.0 0M144.34 370.39a1.5 1.5 0 1 0 3.0 0a1.5 1.5 0 1 0 -3.0 0M151.62 370.39a1.5 1.5 0 1 0 3.0 0a1.5 1.5 0 1 0 -3.0 0M158.90 370.39a1.5 1.5 0 1 0 3.0 0a1.5 1.5 0 1 0 -3.0 0M322.61 131.09a1.5 1.5 0 1 0 3.0 0a1.5 1.5 0 1 0 -3.0 0M329.88 131.09a1.5 1.5 0 1 0 3.0 0a1.5 1.5 0 1 0 -3.0 0M337.16 131.09a1.5 1.5 0 1 0 3.0 0a1.5 1.5 0 1 0 -3.0 0M344.44 131.09a1.5 1.5 0 1 0 3.0 0a1.5 1.5 0 1 0 -3.0 0M351.71 131.09a1.5 1.5 0 1 0 3.0 0a1.5 1.5 0 1 0 -3.0 0M318.97 138.34a1.5 1.5 0 1 0 3.0 0a1.5 1.5 0 1 0 -3.0 0M326.25 138.34a1.5 1.5 0 1 0 3.0 0a1.5 1.5 0 1 0 -3.0 0M333.52 138.34a1.5 1.5 0 1 0 3.0 0a1.5 1.5 0 1 0 -3.0 0M340.80 138.34a1.5 1.5 0 1 0 3.0 0a1.5 1.5 0 1 0 -3.0 0M348.07 138.34a1.5 1.5 0 1 0 3.0 0a1.5 1.5 0 1 0 -3.0 0M355.35 138.34a1.5 1.5 0 1 0 3.0 0a1.5 1.5 0 1 0 -3.0 0M322.61 145.59a1.5 1.5 0 1 0 3.0 0a1.5 1.5 0 1 0 -3.0 0M329.88 145.59a1.5 1.5 0 1 0 3.0 0a1.5 1.5 0 1 0 -3.0 0M337.16 145.59a1.5 1.5 0 1 0 3.0 0a1.5 1.5 0 1 0 -3.0 0M344.44 145.59a1.5 1.5 0 1 0 3.0 0a1.5 1.5 0 1 0 -3.0 0M351.71 145.59a1.5 1.5 0 1 0 3.0 0a1.5 1.5 0 1 0 -3.0 0M318.97 152.85a1.5 1.5 0 1 0 3.0 0a1.5 1.5 0 1 0 -3.0 0M326.25 152.85a1.5 1.5 0 1 0 3.0 0a1.5 1.5 0 1 0 -3.0 0M333.52 152.85a1.5 1.5 0 1 0 3.0 0a1.5 1.5 0 1 0 -3.0 0M340.80 152.85a1.5 1.5 0 1 0 3.0 0a1.5 1.5 0 1 0 -3.0 0M348.07 152.85a1.5 1.5 0 1 0 3.0 0a1.5 1.5 0 1 0 -3.0 0M355.35 152.85a1.5 1.5 0 1 0 3.0 0a1.5 1.5 0 1 0 -3.0 0M322.61 160.10a1.5 1.5 0 1 0 3.0 0a1.5 1.5 0 1 0 -3.0 0M329.88 160.10a1.5 1.5 0 1 0 3.0 0a1.5 1.5 0 1 0 -3.0 0M337.16 160.10a1.5 1.5 0 1 0 3.0 0a1.5 1.5 0 1 0 -3.0 0M344.44 160.10a1.5 1.5 0 1 0 3.0 0a1.5 1.5 0 1 0 -3.0 0M351.71 160.10a1.5 1.5 0 1 0 3.0 0a1.5 1.5 0 1 0 -3.0 0M318.97 167.35a1.5 1.5 0 1 0 3.0 0a1.5 1.5 0 1 0 -3.0 0M326.25 167.35a1.5 1.5 0 1 0 3.0 0a1.5 1.5 0 1 0 -3.0 0M333.52 167.35a1.5 1.5 0 1 0 3.0 0a1.5 1.5 0 1 0 -3.0 0M340.80 167.35a1.5 1.5 0 1 0 3.0 0a1.5 1.5 0 1 0 -3.0 0M348.07 167.35a1.5 1.5 0 1 0 3.0 0a1.5 1.5 0 1 0 -3.0 0M355.35 167.35a1.5 1.5 0 1 0 3.0 0a1.5 1.5 0 1 0 -3.0 0M322.61 174.60a1.5 1.5 0 1 0 3.0 0a1.5 1.5 0 1 0 -3.0 0M329.88 174.60a1.5 1.5 0 1 0 3.0 0a1.5 1.5 0 1 0 -3.0 0M337.16 174.60a1.5 1.5 0 1 0 3.0 0a1.5 1.5 0 1 0 -3.0 0M344.44 174.60a1.5 1.5 0 1 0 3.0 0a1.5 1.5 0 1 0 -3.0 0M351.71 174.60a1.5 1.5 0 1 0 3.0 0a1.5 1.5 0 1 0 -3.0 0M318.97 181.85a1.5 1.5 0 1 0 3.0 0a1.5 1.5 0 1 0 -3.0 0M326.25 181.85a1.5 1.5 0 1 0 3.0 0a1.5 1.5 0 1 0 -3.0 0M333.52 181.85a1.5 1.5 0 1 0 3.0 0a1.5 1.5 0 1 0 -3.0 0M340.80 181.85a1.5 1.5 0 1 0 3.0 0a1.5 1.5 0 1 0 -3.0 0M348.07 181.85a1.5 1.5 0 1 0 3.0 0a1.5 1.5 0 1 0 -3.0 0M355.35 181.85a1.5 1.5 0 1 0 3.0 0a1.5 1.5 0 1 0 -3.0 0M322.61 189.10a1.5 1.5 0 1 0 3.0 0a1.5 1.5 0 1 0 -3.0 0M329.88 189.10a1.5 1.5 0 1 0 3.0 0a1.5 1.5 0 1 0 -3.0 0M337.16 189.10a1.5 1.5 0 1 0 3.0 0a1.5 1.5 0 1 0 -3.0 0M344.44 189.10a1.5 1.5 0 1 0 3.0 0a1.5 1.5 0 1 0 -3.0 0M351.71 189.10a1.5 1.5 0 1 0 3.0 0a1.5 1.5 0 1 0 -3.0 0M318.97 196.35a1.5 1.5 0 1 0 3.0 0a1.5 1.5 0 1 0 -3.0 0M326.25 196.35a1.5 1.5 0 1 0 3.0 0a1.5 1.5 0 1 0 -3.0 0M333.52 196.35a1.5 1.5 0 1 0 3.0 0a1.5 1.5 0 1 0 -3.0 0M340.80 196.35a1.5 1.5 0 1 0 3.0 0a1.5 1.5 0 1 0 -3.0 0M348.07 196.35a1.5 1.5 0 1 0 3.0 0a1.5 1.5 0 1 0 -3.0 0M355.35 196.35a1.5 1.5 0 1 0 3.0 0a1.5 1.5 0 1 0 -3.0 0M322.61 203.61a1.5 1.5 0 1 0 3.0 0a1.5 1.5 0 1 0 -3.0 0M329.88 203.61a1.5 1.5 0 1 0 3.0 0a1.5 1.5 0 1 0 -3.0 0M337.16 203.61a1.5 1.5 0 1 0 3.0 0a1.5 1.5 0 1 0 -3.0 0M344.44 203.61a1.5 1.5 0 1 0 3.0 0a1.5 1.5 0 1 0 -3.0 0M351.71 203.61a1.5 1.5 0 1 0 3.0 0a1.5 1.5 0 1 0 -3.0 0M318.97 210.86a1.5 1.5 0 1 0 3.0 0a1.5 1.5 0 1 0 -3.0 0M326.25 210.86a1.5 1.5 0 1 0 3.0 0a1.5 1.5 0 1 0 -3.0 0M333.52 210.86a1.5 1.5 0 1 0 3.0 0a1.5 1.5 0 1 0 -3.0 0M340.80 210.86a1.5 1.5 0 1 0 3.0 0a1.5 1.5 0 1 0 -3.0 0M348.07 210.86a1.5 1.5 0 1 0 3.0 0a1.5 1.5 0 1 0 -3.0 0M355.35 210.86a1.5 1.5 0 1 0 3.0 0a1.5 1.5 0 1 0 -3.0 0M322.61 218.11a1.5 1.5 0 1 0 3.0 0a1.5 1.5 0 1 0 -3.0 0M329.88 218.11a1.5 1.5 0 1 0 3.0 0a1.5 1.5 0 1 0 -3.0 0M337.16 218.11a1.5 1.5 0 1 0 3.0 0a1.5 1.5 0 1 0 -3.0 0M344.44 218.11a1.5 1.5 0 1 0 3.0 0a1.5 1.5 0 1 0 -3.0 0M351.71 218.11a1.5 1.5 0 1 0 3.0 0a1.5 1.5 0 1 0 -3.0 0M318.97 225.36a1.5 1.5 0 1 0 3.0 0a1.5 1.5 0 1 0 -3.0 0M326.25 225.36a1.5 1.5 0 1 0 3.0 0a1.5 1.5 0 1 0 -3.0 0M333.52 225.36a1.5 1.5 0 1 0 3.0 0a1.5 1.5 0 1 0 -3.0 0M340.80 225.36a1.5 1.5 0 1 0 3.0 0a1.5 1.5 0 1 0 -3.0 0M348.07 225.36a1.5 1.5 0 1 0 3.0 0a1.5 1.5 0 1 0 -3.0 0M355.35 225.36a1.5 1.5 0 1 0 3.0 0a1.5 1.5 0 1 0 -3.0 0M322.61 232.61a1.5 1.5 0 1 0 3.0 0a1.5 1.5 0 1 0 -3.0 0M329.88 232.61a1.5 1.5 0 1 0 3.0 0a1.5 1.5 0 1 0 -3.0 0M337.16 232.61a1.5 1.5 0 1 0 3.0 0a1.5 1.5 0 1 0 -3.0 0M344.44 232.61a1.5 1.5 0 1 0 3.0 0a1.5 1.5 0 1 0 -3.0 0M351.71 232.61a1.5 1.5 0 1 0 3.0 0a1.5 1.5 0 1 0 -3.0 0M318.97 239.86a1.5 1.5 0 1 0 3.0 0a1.5 1.5 0 1 0 -3.0 0M326.25 239.86a1.5 1.5 0 1 0 3.0 0a1.5 1.5 0 1 0 -3.0 0M333.52 239.86a1.5 1.5 0 1 0 3.0 0a1.5 1.5 0 1 0 -3.0 0M340.80 239.86a1.5 1.5 0 1 0 3.0 0a1.5 1.5 0 1 0 -3.0 0M348.07 239.86a1.5 1.5 0 1 0 3.0 0a1.5 1.5 0 1 0 -3.0 0M355.35 239.86a1.5 1.5 0 1 0 3.0 0a1.5 1.5 0 1 0 -3.0 0M322.61 247.12a1.5 1.5 0 1 0 3.0 0a1.5 1.5 0 1 0 -3.0 0M329.88 247.12a1.5 1.5 0 1 0 3.0 0a1.5 1.5 0 1 0 -3.0 0M337.16 247.12a1.5 1.5 0 1 0 3.0 0a1.5 1.5 0 1 0 -3.0 0M344.44 247.12a1.5 1.5 0 1 0 3.0 0a1.5 1.5 0 1 0 -3.0 0M351.71 247.12a1.5 1.5 0 1 0 3.0 0a1.5 1.5 0 1 0 -3.0 0M318.97 254.37a1.5 1.5 0 1 0 3.0 0a1.5 1.5 0 1 0 -3.0 0M326.25 254.37a1.5 1.5 0 1 0 3.0 0a1.5 1.5 0 1 0 -3.0 0M333.52 254.37a1.5 1.5 0 1 0 3.0 0a1.5 1.5 0 1 0 -3.0 0M340.80 254.37a1.5 1.5 0 1 0 3.0 0a1.5 1.5 0 1 0 -3.0 0M348.07 254.37a1.5 1.5 0 1 0 3.0 0a1.5 1.5 0 1 0 -3.0 0M355.35 254.37a1.5 1.5 0 1 0 3.0 0a1.5 1.5 0 1 0 -3.0 0M322.61 261.62a1.5 1.5 0 1 0 3.0 0a1.5 1.5 0 1 0 -3.0 0M329.88 261.62a1.5 1.5 0 1 0 3.0 0a1.5 1.5 0 1 0 -3.0 0M337.16 261.62a1.5 1.5 0 1 0 3.0 0a1.5 1.5 0 1 0 -3.0 0M344.44 261.62a1.5 1.5 0 1 0 3.0 0a1.5 1.5 0 1 0 -3.0 0M351.71 261.62a1.5 1.5 0 1 0 3.0 0a1.5 1.5 0 1 0 -3.0 0M318.97 268.87a1.5 1.5 0 1 0 3.0 0a1.5 1.5 0 1 0 -3.0 0M326.25 268.87a1.5 1.5 0 1 0 3.0 0a1.5 1.5 0 1 0 -3.0 0M333.52 268.87a1.5 1.5 0 1 0 3.0 0a1.5 1.5 0 1 0 -3.0 0M340.80 268.87a1.5 1.5 0 1 0 3.0 0a1.5 1.5 0 1 0 -3.0 0M348.07 268.87a1.5 1.5 0 1 0 3.0 0a1.5 1.5 0 1 0 -3.0 0M355.35 268.87a1.5 1.5 0 1 0 3.0 0a1.5 1.5 0 1 0 -3.0 0M322.61 276.12a1.5 1.5 0 1 0 3.0 0a1.5 1.5 0 1 0 -3.0 0M329.88 276.12a1.5 1.5 0 1 0 3.0 0a1.5 1.5 0 1 0 -3.0 0M337.16 276.12a1.5 1.5 0 1 0 3.0 0a1.5 1.5 0 1 0 -3.0 0M344.44 276.12a1.5 1.5 0 1 0 3.0 0a1.5 1.5 0 1 0 -3.0 0M351.71 276.12a1.5 1.5 0 1 0 3.0 0a1.5 1.5 0 1 0 -3.0 0M318.97 283.37a1.5 1.5 0 1 0 3.0 0a1.5 1.5 0 1 0 -3.0 0M326.25 283.37a1.5 1.5 0 1 0 3.0 0a1.5 1.5 0 1 0 -3.0 0M333.52 283.37a1.5 1.5 0 1 0 3.0 0a1.5 1.5 0 1 0 -3.0 0M340.80 283.37a1.5 1.5 0 1 0 3.0 0a1.5 1.5 0 1 0 -3.0 0M348.07 283.37a1.5 1.5 0 1 0 3.0 0a1.5 1.5 0 1 0 -3.0 0M355.35 283.37a1.5 1.5 0 1 0 3.0 0a1.5 1.5 0 1 0 -3.0 0M322.61 290.62a1.5 1.5 0 1 0 3.0 0a1.5 1.5 0 1 0 -3.0 0M329.88 290.62a1.5 1.5 0 1 0 3.0 0a1.5 1.5 0 1 0 -3.0 0M337.16 290.62a1.5 1.5 0 1 0 3.0 0a1.5 1.5 0 1 0 -3.0 0M344.44 290.62a1.5 1.5 0 1 0 3.0 0a1.5 1.5 0 1 0 -3.0 0M351.71 290.62a1.5 1.5 0 1 0 3.0 0a1.5 1.5 0 1 0 -3.0 0M318.97 297.88a1.5 1.5 0 1 0 3.0 0a1.5 1.5 0 1 0 -3.0 0M326.25 297.88a1.5 1.5 0 1 0 3.0 0a1.5 1.5 0 1 0 -3.0 0M333.52 297.88a1.5 1.5 0 1 0 3.0 0a1.5 1.5 0 1 0 -3.0 0M340.80 297.88a1.5 1.5 0 1 0 3.0 0a1.5 1.5 0 1 0 -3.0 0M348.07 297.88a1.5 1.5 0 1 0 3.0 0a1.5 1.5 0 1 0 -3.0 0M355.35 297.88a1.5 1.5 0 1 0 3.0 0a1.5 1.5 0 1 0 -3.0 0M322.61 305.13a1.5 1.5 0 1 0 3.0 0a1.5 1.5 0 1 0 -3.0 0M329.88 305.13a1.5 1.5 0 1 0 3.0 0a1.5 1.5 0 1 0 -3.0 0M337.16 305.13a1.5 1.5 0 1 0 3.0 0a1.5 1.5 0 1 0 -3.0 0M344.44 305.13a1.5 1.5 0 1 0 3.0 0a1.5 1.5 0 1 0 -3.0 0M351.71 305.13a1.5 1.5 0 1 0 3.0 0a1.5 1.5 0 1 0 -3.0 0M318.97 312.38a1.5 1.5 0 1 0 3.0 0a1.5 1.5 0 1 0 -3.0 0M326.25 312.38a1.5 1.5 0 1 0 3.0 0a1.5 1.5 0 1 0 -3.0 0M333.52 312.38a1.5 1.5 0 1 0 3.0 0a1.5 1.5 0 1 0 -3.0 0M340.80 312.38a1.5 1.5 0 1 0 3.0 0a1.5 1.5 0 1 0 -3.0 0M348.07 312.38a1.5 1.5 0 1 0 3.0 0a1.5 1.5 0 1 0 -3.0 0M355.35 312.38a1.5 1.5 0 1 0 3.0 0a1.5 1.5 0 1 0 -3.0 0M322.61 319.63a1.5 1.5 0 1 0 3.0 0a1.5 1.5 0 1 0 -3.0 0M329.88 319.63a1.5 1.5 0 1 0 3.0 0a1.5 1.5 0 1 0 -3.0 0M337.16 319.63a1.5 1.5 0 1 0 3.0 0a1.5 1.5 0 1 0 -3.0 0M344.44 319.63a1.5 1.5 0 1 0 3.0 0a1.5 1.5 0 1 0 -3.0 0M351.71 319.63a1.5 1.5 0 1 0 3.0 0a1.5 1.5 0 1 0 -3.0 0M318.97 326.88a1.5 1.5 0 1 0 3.0 0a1.5 1.5 0 1 0 -3.0 0M326.25 326.88a1.5 1.5 0 1 0 3.0 0a1.5 1.5 0 1 0 -3.0 0M333.52 326.88a1.5 1.5 0 1 0 3.0 0a1.5 1.5 0 1 0 -3.0 0M340.80 326.88a1.5 1.5 0 1 0 3.0 0a1.5 1.5 0 1 0 -3.0 0M348.07 326.88a1.5 1.5 0 1 0 3.0 0a1.5 1.5 0 1 0 -3.0 0M355.35 326.88a1.5 1.5 0 1 0 3.0 0a1.5 1.5 0 1 0 -3.0 0M322.61 334.13a1.5 1.5 0 1 0 3.0 0a1.5 1.5 0 1 0 -3.0 0M329.88 334.13a1.5 1.5 0 1 0 3.0 0a1.5 1.5 0 1 0 -3.0 0M337.16 334.13a1.5 1.5 0 1 0 3.0 0a1.5 1.5 0 1 0 -3.0 0M344.44 334.13a1.5 1.5 0 1 0 3.0 0a1.5 1.5 0 1 0 -3.0 0M351.71 334.13a1.5 1.5 0 1 0 3.0 0a1.5 1.5 0 1 0 -3.0 0M318.97 341.38a1.5 1.5 0 1 0 3.0 0a1.5 1.5 0 1 0 -3.0 0M326.25 341.38a1.5 1.5 0 1 0 3.0 0a1.5 1.5 0 1 0 -3.0 0M333.52 341.38a1.5 1.5 0 1 0 3.0 0a1.5 1.5 0 1 0 -3.0 0M340.80 341.38a1.5 1.5 0 1 0 3.0 0a1.5 1.5 0 1 0 -3.0 0M348.07 341.38a1.5 1.5 0 1 0 3.0 0a1.5 1.5 0 1 0 -3.0 0M355.35 341.38a1.5 1.5 0 1 0 3.0 0a1.5 1.5 0 1 0 -3.0 0M322.61 348.64a1.5 1.5 0 1 0 3.0 0a1.5 1.5 0 1 0 -3.0 0M329.88 348.64a1.5 1.5 0 1 0 3.0 0a1.5 1.5 0 1 0 -3.0 0M337.16 348.64a1.5 1.5 0 1 0 3.0 0a1.5 1.5 0 1 0 -3.0 0M344.44 348.64a1.5 1.5 0 1 0 3.0 0a1.5 1.5 0 1 0 -3.0 0M351.71 348.64a1.5 1.5 0 1 0 3.0 0a1.5 1.5 0 1 0 -3.0 0M318.97 355.89a1.5 1.5 0 1 0 3.0 0a1.5 1.5 0 1 0 -3.0 0M326.25 355.89a1.5 1.5 0 1 0 3.0 0a1.5 1.5 0 1 0 -3.0 0M333.52 355.89a1.5 1.5 0 1 0 3.0 0a1.5 1.5 0 1 0 -3.0 0M340.80 355.89a1.5 1.5 0 1 0 3.0 0a1.5 1.5 0 1 0 -3.0 0M348.07 355.89a1.5 1.5 0 1 0 3.0 0a1.5 1.5 0 1 0 -3.0 0M355.35 355.89a1.5 1.5 0 1 0 3.0 0a1.5 1.5 0 1 0 -3.0 0M322.61 363.14a1.5 1.5 0 1 0 3.0 0a1.5 1.5 0 1 0 -3.0 0M329.88 363.14a1.5 1.5 0 1 0 3.0 0a1.5 1.5 0 1 0 -3.0 0M337.16 363.14a1.5 1.5 0 1 0 3.0 0a1.5 1.5 0 1 0 -3.0 0M344.44 363.14a1.5 1.5 0 1 0 3.0 0a1.5 1.5 0 1 0 -3.0 0M351.71 363.14a1.5 1.5 0 1 0 3.0 0a1.5 1.5 0 1 0 -3.0 0M318.97 370.39a1.5 1.5 0 1 0 3.0 0a1.5 1.5 0 1 0 -3.0 0M326.25 370.39a1.5 1.5 0 1 0 3.0 0a1.5 1.5 0 1 0 -3.0 0M333.52 370.39a1.5 1.5 0 1 0 3.0 0a1.5 1.5 0 1 0 -3.0 0M340.80 370.39a1.5 1.5 0 1 0 3.0 0a1.5 1.5 0 1 0 -3.0 0M348.07 370.39a1.5 1.5 0 1 0 3.0 0a1.5 1.5 0 1 0 -3.0 0M355.35 370.39a1.5 1.5 0 1 0 3.0 0a1.5 1.5 0 1 0 -3.0 0M348.07 94.83a1.5 1.5 0 1 0 3.0 0a1.5 1.5 0 1 0 -3.0 0M355.35 94.83a1.5 1.5 0 1 0 3.0 0a1.5 1.5 0 1 0 -3.0 0M362.62 94.83a1.5 1.5 0 1 0 3.0 0a1.5 1.5 0 1 0 -3.0 0M369.90 94.83a1.5 1.5 0 1 0 3.0 0a1.5 1.5 0 1 0 -3.0 0M377.18 94.83a1.5 1.5 0 1 0 3.0 0a1.5 1.5 0 1 0 -3.0 0M384.45 94.83a1.5 1.5 0 1 0 3.0 0a1.5 1.5 0 1 0 -3.0 0M344.44 102.09a1.5 1.5 0 1 0 3.0 0a1.5 1.5 0 1 0 -3.0 0M351.71 102.09a1.5 1.5 0 1 0 3.0 0a1.5 1.5 0 1 0 -3.0 0M358.99 102.09a1.5 1.5 0 1 0 3.0 0a1.5 1.5 0 1 0 -3.0 0M366.26 102.09a1.5 1.5 0 1 0 3.0 0a1.5 1.5 0 1 0 -3.0 0M373.54 102.09a1.5 1.5 0 1 0 3.0 0a1.5 1.5 0 1 0 -3.0 0M380.81 102.09a1.5 1.5 0 1 0 3.0 0a1.5 1.5 0 1 0 -3.0 0M348.07 109.34a1.5 1.5 0 1 0 3.0 0a1.5 1.5 0 1 0 -3.0 0M355.35 109.34a1.5 1.5 0 1 0 3.0 0a1.5 1.5 0 1 0 -3.0 0M362.62 109.34a1.5 1.5 0 1 0 3.0 0a1.5 1.5 0 1 0 -3.0 0M369.90 109.34a1.5 1.5 0 1 0 3.0 0a1.5 1.5 0 1 0 -3.0 0M377.18 109.34a1.5 1.5 0 1 0 3.0 0a1.5 1.5 0 1 0 -3.0 0M384.45 109.34a1.5 1.5 0 1 0 3.0 0a1.5 1.5 0 1 0 -3.0 0M344.44 116.59a1.5 1.5 0 1 0 3.0 0a1.5 1.5 0 1 0 -3.0 0M351.71 116.59a1.5 1.5 0 1 0 3.0 0a1.5 1.5 0 1 0 -3.0 0M358.99 116.59a1.5 1.5 0 1 0 3.0 0a1.5 1.5 0 1 0 -3.0 0M366.26 116.59a1.5 1.5 0 1 0 3.0 0a1.5 1.5 0 1 0 -3.0 0M373.54 116.59a1.5 1.5 0 1 0 3.0 0a1.5 1.5 0 1 0 -3.0 0M380.81 116.59a1.5 1.5 0 1 0 3.0 0a1.5 1.5 0 1 0 -3.0 0M348.07 123.84a1.5 1.5 0 1 0 3.0 0a1.5 1.5 0 1 0 -3.0 0M355.35 123.84a1.5 1.5 0 1 0 3.0 0a1.5 1.5 0 1 0 -3.0 0M362.62 123.84a1.5 1.5 0 1 0 3.0 0a1.5 1.5 0 1 0 -3.0 0M369.90 123.84a1.5 1.5 0 1 0 3.0 0a1.5 1.5 0 1 0 -3.0 0M377.18 123.84a1.5 1.5 0 1 0 3.0 0a1.5 1.5 0 1 0 -3.0 0M384.45 123.84a1.5 1.5 0 1 0 3.0 0a1.5 1.5 0 1 0 -3.0 0M344.44 131.09a1.5 1.5 0 1 0 3.0 0a1.5 1.5 0 1 0 -3.0 0M351.71 131.09a1.5 1.5 0 1 0 3.0 0a1.5 1.5 0 1 0 -3.0 0M358.99 131.09a1.5 1.5 0 1 0 3.0 0a1.5 1.5 0 1 0 -3.0 0M366.26 131.09a1.5 1.5 0 1 0 3.0 0a1.5 1.5 0 1 0 -3.0 0M373.54 131.09a1.5 1.5 0 1 0 3.0 0a1.5 1.5 0 1 0 -3.0 0M380.81 131.09a1.5 1.5 0 1 0 3.0 0a1.5 1.5 0 1 0 -3.0 0M348.07 138.34a1.5 1.5 0 1 0 3.0 0a1.5 1.5 0 1 0 -3.0 0M355.35 138.34a1.5 1.5 0 1 0 3.0 0a1.5 1.5 0 1 0 -3.0 0M362.62 138.34a1.5 1.5 0 1 0 3.0 0a1.5 1.5 0 1 0 -3.0 0M369.90 138.34a1.5 1.5 0 1 0 3.0 0a1.5 1.5 0 1 0 -3.0 0M377.18 138.34a1.5 1.5 0 1 0 3.0 0a1.5 1.5 0 1 0 -3.0 0M384.45 138.34a1.5 1.5 0 1 0 3.0 0a1.5 1.5 0 1 0 -3.0 0M344.44 145.59a1.5 1.5 0 1 0 3.0 0a1.5 1.5 0 1 0 -3.0 0M351.71 145.59a1.5 1.5 0 1 0 3.0 0a1.5 1.5 0 1 0 -3.0 0M358.99 145.59a1.5 1.5 0 1 0 3.0 0a1.5 1.5 0 1 0 -3.0 0M366.26 145.59a1.5 1.5 0 1 0 3.0 0a1.5 1.5 0 1 0 -3.0 0M373.54 145.59a1.5 1.5 0 1 0 3.0 0a1.5 1.5 0 1 0 -3.0 0M380.81 145.59a1.5 1.5 0 1 0 3.0 0a1.5 1.5 0 1 0 -3.0 0M348.07 152.85a1.5 1.5 0 1 0 3.0 0a1.5 1.5 0 1 0 -3.0 0M355.35 152.85a1.5 1.5 0 1 0 3.0 0a1.5 1.5 0 1 0 -3.0 0M362.62 152.85a1.5 1.5 0 1 0 3.0 0a1.5 1.5 0 1 0 -3.0 0M369.90 152.85a1.5 1.5 0 1 0 3.0 0a1.5 1.5 0 1 0 -3.0 0M377.18 152.85a1.5 1.5 0 1 0 3.0 0a1.5 1.5 0 1 0 -3.0 0M384.45 152.85a1.5 1.5 0 1 0 3.0 0a1.5 1.5 0 1 0 -3.0 0M344.44 160.10a1.5 1.5 0 1 0 3.0 0a1.5 1.5 0 1 0 -3.0 0M351.71 160.10a1.5 1.5 0 1 0 3.0 0a1.5 1.5 0 1 0 -3.0 0M358.99 160.10a1.5 1.5 0 1 0 3.0 0a1.5 1.5 0 1 0 -3.0 0M366.26 160.10a1.5 1.5 0 1 0 3.0 0a1.5 1.5 0 1 0 -3.0 0M373.54 160.10a1.5 1.5 0 1 0 3.0 0a1.5 1.5 0 1 0 -3.0 0M380.81 160.10a1.5 1.5 0 1 0 3.0 0a1.5 1.5 0 1 0 -3.0 0M348.07 167.35a1.5 1.5 0 1 0 3.0 0a1.5 1.5 0 1 0 -3.0 0M355.35 167.35a1.5 1.5 0 1 0 3.0 0a1.5 1.5 0 1 0 -3.0 0M362.62 167.35a1.5 1.5 0 1 0 3.0 0a1.5 1.5 0 1 0 -3.0 0M369.90 167.35a1.5 1.5 0 1 0 3.0 0a1.5 1.5 0 1 0 -3.0 0M377.18 167.35a1.5 1.5 0 1 0 3.0 0a1.5 1.5 0 1 0 -3.0 0M384.45 167.35a1.5 1.5 0 1 0 3.0 0a1.5 1.5 0 1 0 -3.0 0M344.44 174.60a1.5 1.5 0 1 0 3.0 0a1.5 1.5 0 1 0 -3.0 0M351.71 174.60a1.5 1.5 0 1 0 3.0 0a1.5 1.5 0 1 0 -3.0 0M358.99 174.60a1.5 1.5 0 1 0 3.0 0a1.5 1.5 0 1 0 -3.0 0M366.26 174.60a1.5 1.5 0 1 0 3.0 0a1.5 1.5 0 1 0 -3.0 0M373.54 174.60a1.5 1.5 0 1 0 3.0 0a1.5 1.5 0 1 0 -3.0 0M380.81 174.60a1.5 1.5 0 1 0 3.0 0a1.5 1.5 0 1 0 -3.0 0M348.07 181.85a1.5 1.5 0 1 0 3.0 0a1.5 1.5 0 1 0 -3.0 0M355.35 181.85a1.5 1.5 0 1 0 3.0 0a1.5 1.5 0 1 0 -3.0 0M362.62 181.85a1.5 1.5 0 1 0 3.0 0a1.5 1.5 0 1 0 -3.0 0M369.90 181.85a1.5 1.5 0 1 0 3.0 0a1.5 1.5 0 1 0 -3.0 0M377.18 181.85a1.5 1.5 0 1 0 3.0 0a1.5 1.5 0 1 0 -3.0 0M384.45 181.85a1.5 1.5 0 1 0 3.0 0a1.5 1.5 0 1 0 -3.0 0M344.44 189.10a1.5 1.5 0 1 0 3.0 0a1.5 1.5 0 1 0 -3.0 0M351.71 189.10a1.5 1.5 0 1 0 3.0 0a1.5 1.5 0 1 0 -3.0 0M358.99 189.10a1.5 1.5 0 1 0 3.0 0a1.5 1.5 0 1 0 -3.0 0M366.26 189.10a1.5 1.5 0 1 0 3.0 0a1.5 1.5 0 1 0 -3.0 0M373.54 189.10a1.5 1.5 0 1 0 3.0 0a1.5 1.5 0 1 0 -3.0 0M380.81 189.10a1.5 1.5 0 1 0 3.0 0a1.5 1.5 0 1 0 -3.0 0M348.07 196.35a1.5 1.5 0 1 0 3.0 0a1.5 1.5 0 1 0 -3.0 0M355.35 196.35a1.5 1.5 0 1 0 3.0 0a1.5 1.5 0 1 0 -3.0 0M362.62 196.35a1.5 1.5 0 1 0 3.0 0a1.5 1.5 0 1 0 -3.0 0M369.90 196.35a1.5 1.5 0 1 0 3.0 0a1.5 1.5 0 1 0 -3.0 0M377.18 196.35a1.5 1.5 0 1 0 3.0 0a1.5 1.5 0 1 0 -3.0 0M384.45 196.35a1.5 1.5 0 1 0 3.0 0a1.5 1.5 0 1 0 -3.0 0M344.44 203.61a1.5 1.5 0 1 0 3.0 0a1.5 1.5 0 1 0 -3.0 0M351.71 203.61a1.5 1.5 0 1 0 3.0 0a1.5 1.5 0 1 0 -3.0 0M358.99 203.61a1.5 1.5 0 1 0 3.0 0a1.5 1.5 0 1 0 -3.0 0M366.26 203.61a1.5 1.5 0 1 0 3.0 0a1.5 1.5 0 1 0 -3.0 0M373.54 203.61a1.5 1.5 0 1 0 3.0 0a1.5 1.5 0 1 0 -3.0 0M380.81 203.61a1.5 1.5 0 1 0 3.0 0a1.5 1.5 0 1 0 -3.0 0M348.07 210.86a1.5 1.5 0 1 0 3.0 0a1.5 1.5 0 1 0 -3.0 0M355.35 210.86a1.5 1.5 0 1 0 3.0 0a1.5 1.5 0 1 0 -3.0 0M362.62 210.86a1.5 1.5 0 1 0 3.0 0a1.5 1.5 0 1 0 -3.0 0M369.90 210.86a1.5 1.5 0 1 0 3.0 0a1.5 1.5 0 1 0 -3.0 0M377.18 210.86a1.5 1.5 0 1 0 3.0 0a1.5 1.5 0 1 0 -3.0 0M384.45 210.86a1.5 1.5 0 1 0 3.0 0a1.5 1.5 0 1 0 -3.0 0M344.44 218.11a1.5 1.5 0 1 0 3.0 0a1.5 1.5 0 1 0 -3.0 0M351.71 218.11a1.5 1.5 0 1 0 3.0 0a1.5 1.5 0 1 0 -3.0 0M358.99 218.11a1.5 1.5 0 1 0 3.0 0a1.5 1.5 0 1 0 -3.0 0M366.26 218.11a1.5 1.5 0 1 0 3.0 0a1.5 1.5 0 1 0 -3.0 0M373.54 218.11a1.5 1.5 0 1 0 3.0 0a1.5 1.5 0 1 0 -3.0 0M380.81 218.11a1.5 1.5 0 1 0 3.0 0a1.5 1.5 0 1 0 -3.0 0M348.07 225.36a1.5 1.5 0 1 0 3.0 0a1.5 1.5 0 1 0 -3.0 0M355.35 225.36a1.5 1.5 0 1 0 3.0 0a1.5 1.5 0 1 0 -3.0 0M362.62 225.36a1.5 1.5 0 1 0 3.0 0a1.5 1.5 0 1 0 -3.0 0M369.90 225.36a1.5 1.5 0 1 0 3.0 0a1.5 1.5 0 1 0 -3.0 0M377.18 225.36a1.5 1.5 0 1 0 3.0 0a1.5 1.5 0 1 0 -3.0 0M384.45 225.36a1.5 1.5 0 1 0 3.0 0a1.5 1.5 0 1 0 -3.0 0M344.44 232.61a1.5 1.5 0 1 0 3.0 0a1.5 1.5 0 1 0 -3.0 0M351.71 232.61a1.5 1.5 0 1 0 3.0 0a1.5 1.5 0 1 0 -3.0 0M358.99 232.61a1.5 1.5 0 1 0 3.0 0a1.5 1.5 0 1 0 -3.0 0M366.26 232.61a1.5 1.5 0 1 0 3.0 0a1.5 1.5 0 1 0 -3.0 0M373.54 232.61a1.5 1.5 0 1 0 3.0 0a1.5 1.5 0 1 0 -3.0 0M380.81 232.61a1.5 1.5 0 1 0 3.0 0a1.5 1.5 0 1 0 -3.0 0M348.07 239.86a1.5 1.5 0 1 0 3.0 0a1.5 1.5 0 1 0 -3.0 0M355.35 239.86a1.5 1.5 0 1 0 3.0 0a1.5 1.5 0 1 0 -3.0 0M362.62 239.86a1.5 1.5 0 1 0 3.0 0a1.5 1.5 0 1 0 -3.0 0M369.90 239.86a1.5 1.5 0 1 0 3.0 0a1.5 1.5 0 1 0 -3.0 0M377.18 239.86a1.5 1.5 0 1 0 3.0 0a1.5 1.5 0 1 0 -3.0 0M384.45 239.86a1.5 1.5 0 1 0 3.0 0a1.5 1.5 0 1 0 -3.0 0M344.44 247.12a1.5 1.5 0 1 0 3.0 0a1.5 1.5 0 1 0 -3.0 0M351.71 247.12a1.5 1.5 0 1 0 3.0 0a1.5 1.5 0 1 0 -3.0 0M358.99 247.12a1.5 1.5 0 1 0 3.0 0a1.5 1.5 0 1 0 -3.0 0M366.26 247.12a1.5 1.5 0 1 0 3.0 0a1.5 1.5 0 1 0 -3.0 0M373.54 247.12a1.5 1.5 0 1 0 3.0 0a1.5 1.5 0 1 0 -3.0 0M380.81 247.12a1.5 1.5 0 1 0 3.0 0a1.5 1.5 0 1 0 -3.0 0M348.07 254.37a1.5 1.5 0 1 0 3.0 0a1.5 1.5 0 1 0 -3.0 0M355.35 254.37a1.5 1.5 0 1 0 3.0 0a1.5 1.5 0 1 0 -3.0 0M362.62 254.37a1.5 1.5 0 1 0 3.0 0a1.5 1.5 0 1 0 -3.0 0M369.90 254.37a1.5 1.5 0 1 0 3.0 0a1.5 1.5 0 1 0 -3.0 0M377.18 254.37a1.5 1.5 0 1 0 3.0 0a1.5 1.5 0 1 0 -3.0 0M384.45 254.37a1.5 1.5 0 1 0 3.0 0a1.5 1.5 0 1 0 -3.0 0M344.44 261.62a1.5 1.5 0 1 0 3.0 0a1.5 1.5 0 1 0 -3.0 0M351.71 261.62a1.5 1.5 0 1 0 3.0 0a1.5 1.5 0 1 0 -3.0 0M358.99 261.62a1.5 1.5 0 1 0 3.0 0a1.5 1.5 0 1 0 -3.0 0M366.26 261.62a1.5 1.5 0 1 0 3.0 0a1.5 1.5 0 1 0 -3.0 0M373.54 261.62a1.5 1.5 0 1 0 3.0 0a1.5 1.5 0 1 0 -3.0 0M380.81 261.62a1.5 1.5 0 1 0 3.0 0a1.5 1.5 0 1 0 -3.0 0M348.07 268.87a1.5 1.5 0 1 0 3.0 0a1.5 1.5 0 1 0 -3.0 0M355.35 268.87a1.5 1.5 0 1 0 3.0 0a1.5 1.5 0 1 0 -3.0 0M362.62 268.87a1.5 1.5 0 1 0 3.0 0a1.5 1.5 0 1 0 -3.0 0M369.90 268.87a1.5 1.5 0 1 0 3.0 0a1.5 1.5 0 1 0 -3.0 0M377.18 268.87a1.5 1.5 0 1 0 3.0 0a1.5 1.5 0 1 0 -3.0 0M384.45 268.87a1.5 1.5 0 1 0 3.0 0a1.5 1.5 0 1 0 -3.0 0M344.44 276.12a1.5 1.5 0 1 0 3.0 0a1.5 1.5 0 1 0 -3.0 0M351.71 276.12a1.5 1.5 0 1 0 3.0 0a1.5 1.5 0 1 0 -3.0 0M358.99 276.12a1.5 1.5 0 1 0 3.0 0a1.5 1.5 0 1 0 -3.0 0M366.26 276.12a1.5 1.5 0 1 0 3.0 0a1.5 1.5 0 1 0 -3.0 0M373.54 276.12a1.5 1.5 0 1 0 3.0 0a1.5 1.5 0 1 0 -3.0 0M380.81 276.12a1.5 1.5 0 1 0 3.0 0a1.5 1.5 0 1 0 -3.0 0M348.07 283.37a1.5 1.5 0 1 0 3.0 0a1.5 1.5 0 1 0 -3.0 0M355.35 283.37a1.5 1.5 0 1 0 3.0 0a1.5 1.5 0 1 0 -3.0 0M362.62 283.37a1.5 1.5 0 1 0 3.0 0a1.5 1.5 0 1 0 -3.0 0M369.90 283.37a1.5 1.5 0 1 0 3.0 0a1.5 1.5 0 1 0 -3.0 0M377.18 283.37a1.5 1.5 0 1 0 3.0 0a1.5 1.5 0 1 0 -3.0 0M384.45 283.37a1.5 1.5 0 1 0 3.0 0a1.5 1.5 0 1 0 -3.0 0M344.44 290.62a1.5 1.5 0 1 0 3.0 0a1.5 1.5 0 1 0 -3.0 0M351.71 290.62a1.5 1.5 0 1 0 3.0 0a1.5 1.5 0 1 0 -3.0 0M358.99 290.62a1.5 1.5 0 1 0 3.0 0a1.5 1.5 0 1 0 -3.0 0M366.26 290.62a1.5 1.5 0 1 0 3.0 0a1.5 1.5 0 1 0 -3.0 0M373.54 290.62a1.5 1.5 0 1 0 3.0 0a1.5 1.5 0 1 0 -3.0 0M380.81 290.62a1.5 1.5 0 1 0 3.0 0a1.5 1.5 0 1 0 -3.0 0M348.07 297.88a1.5 1.5 0 1 0 3.0 0a1.5 1.5 0 1 0 -3.0 0M355.35 297.88a1.5 1.5 0 1 0 3.0 0a1.5 1.5 0 1 0 -3.0 0M362.62 297.88a1.5 1.5 0 1 0 3.0 0a1.5 1.5 0 1 0 -3.0 0M369.90 297.88a1.5 1.5 0 1 0 3.0 0a1.5 1.5 0 1 0 -3.0 0M377.18 297.88a1.5 1.5 0 1 0 3.0 0a1.5 1.5 0 1 0 -3.0 0M384.45 297.88a1.5 1.5 0 1 0 3.0 0a1.5 1.5 0 1 0 -3.0 0M344.44 305.13a1.5 1.5 0 1 0 3.0 0a1.5 1.5 0 1 0 -3.0 0M351.71 305.13a1.5 1.5 0 1 0 3.0 0a1.5 1.5 0 1 0 -3.0 0M358.99 305.13a1.5 1.5 0 1 0 3.0 0a1.5 1.5 0 1 0 -3.0 0M366.26 305.13a1.5 1.5 0 1 0 3.0 0a1.5 1.5 0 1 0 -3.0 0M373.54 305.13a1.5 1.5 0 1 0 3.0 0a1.5 1.5 0 1 0 -3.0 0M380.81 305.13a1.5 1.5 0 1 0 3.0 0a1.5 1.5 0 1 0 -3.0 0M348.07 312.38a1.5 1.5 0 1 0 3.0 0a1.5 1.5 0 1 0 -3.0 0M355.35 312.38a1.5 1.5 0 1 0 3.0 0a1.5 1.5 0 1 0 -3.0 0M362.62 312.38a1.5 1.5 0 1 0 3.0 0a1.5 1.5 0 1 0 -3.0 0M369.90 312.38a1.5 1.5 0 1 0 3.0 0a1.5 1.5 0 1 0 -3.0 0M377.18 312.38a1.5 1.5 0 1 0 3.0 0a1.5 1.5 0 1 0 -3.0 0M384.45 312.38a1.5 1.5 0 1 0 3.0 0a1.5 1.5 0 1 0 -3.0 0M344.44 319.63a1.5 1.5 0 1 0 3.0 0a1.5 1.5 0 1 0 -3.0 0M351.71 319.63a1.5 1.5 0 1 0 3.0 0a1.5 1.5 0 1 0 -3.0 0M358.99 319.63a1.5 1.5 0 1 0 3.0 0a1.5 1.5 0 1 0 -3.0 0M366.26 319.63a1.5 1.5 0 1 0 3.0 0a1.5 1.5 0 1 0 -3.0 0M373.54 319.63a1.5 1.5 0 1 0 3.0 0a1.5 1.5 0 1 0 -3.0 0M380.81 319.63a1.5 1.5 0 1 0 3.0 0a1.5 1.5 0 1 0 -3.0 0M348.07 326.88a1.5 1.5 0 1 0 3.0 0a1.5 1.5 0 1 0 -3.0 0M355.35 326.88a1.5 1.5 0 1 0 3.0 0a1.5 1.5 0 1 0 -3.0 0M362.62 326.88a1.5 1.5 0 1 0 3.0 0a1.5 1.5 0 1 0 -3.0 0M369.90 326.88a1.5 1.5 0 1 0 3.0 0a1.5 1.5 0 1 0 -3.0 0M377.18 326.88a1.5 1.5 0 1 0 3.0 0a1.5 1.5 0 1 0 -3.0 0M384.45 326.88a1.5 1.5 0 1 0 3.0 0a1.5 1.5 0 1 0 -3.0 0M344.44 334.13a1.5 1.5 0 1 0 3.0 0a1.5 1.5 0 1 0 -3.0 0M351.71 334.13a1.5 1.5 0 1 0 3.0 0a1.5 1.5 0 1 0 -3.0 0M358.99 334.13a1.5 1.5 0 1 0 3.0 0a1.5 1.5 0 1 0 -3.0 0M366.26 334.13a1.5 1.5 0 1 0 3.0 0a1.5 1.5 0 1 0 -3.0 0M373.54 334.13a1.5 1.5 0 1 0 3.0 0a1.5 1.5 0 1 0 -3.0 0M380.81 334.13a1.5 1.5 0 1 0 3.0 0a1.5 1.5 0 1 0 -3.0 0M348.07 341.38a1.5 1.5 0 1 0 3.0 0a1.5 1.5 0 1 0 -3.0 0M355.35 341.38a1.5 1.5 0 1 0 3.0 0a1.5 1.5 0 1 0 -3.0 0M362.62 341.38a1.5 1.5 0 1 0 3.0 0a1.5 1.5 0 1 0 -3.0 0M369.90 341.38a1.5 1.5 0 1 0 3.0 0a1.5 1.5 0 1 0 -3.0 0M377.18 341.38a1.5 1.5 0 1 0 3.0 0a1.5 1.5 0 1 0 -3.0 0M384.45 341.38a1.5 1.5 0 1 0 3.0 0a1.5 1.5 0 1 0 -3.0 0M344.44 348.64a1.5 1.5 0 1 0 3.0 0a1.5 1.5 0 1 0 -3.0 0M351.71 348.64a1.5 1.5 0 1 0 3.0 0a1.5 1.5 0 1 0 -3.0 0M358.99 348.64a1.5 1.5 0 1 0 3.0 0a1.5 1.5 0 1 0 -3.0 0M366.26 348.64a1.5 1.5 0 1 0 3.0 0a1.5 1.5 0 1 0 -3.0 0M373.54 348.64a1.5 1.5 0 1 0 3.0 0a1.5 1.5 0 1 0 -3.0 0M380.81 348.64a1.5 1.5 0 1 0 3.0 0a1.5 1.5 0 1 0 -3.0 0M348.07 355.89a1.5 1.5 0 1 0 3.0 0a1.5 1.5 0 1 0 -3.0 0M355.35 355.89a1.5 1.5 0 1 0 3.0 0a1.5 1.5 0 1 0 -3.0 0M362.62 355.89a1.5 1.5 0 1 0 3.0 0a1.5 1.5 0 1 0 -3.0 0M369.90 355.89a1.5 1.5 0 1 0 3.0 0a1.5 1.5 0 1 0 -3.0 0M377.18 355.89a1.5 1.5 0 1 0 3.0 0a1.5 1.5 0 1 0 -3.0 0M384.45 355.89a1.5 1.5 0 1 0 3.0 0a1.5 1.5 0 1 0 -3.0 0M344.44 363.14a1.5 1.5 0 1 0 3.0 0a1.5 1.5 0 1 0 -3.0 0M351.71 363.14a1.5 1.5 0 1 0 3.0 0a1.5 1.5 0 1 0 -3.0 0M358.99 363.14a1.5 1.5 0 1 0 3.0 0a1.5 1.5 0 1 0 -3.0 0M366.26 363.14a1.5 1.5 0 1 0 3.0 0a1.5 1.5 0 1 0 -3.0 0M373.54 363.14a1.5 1.5 0 1 0 3.0 0a1.5 1.5 0 1 0 -3.0 0M380.81 363.14a1.5 1.5 0 1 0 3.0 0a1.5 1.5 0 1 0 -3.0 0M348.07 370.39a1.5 1.5 0 1 0 3.0 0a1.5 1.5 0 1 0 -3.0 0M355.35 370.39a1.5 1.5 0 1 0 3.0 0a1.5 1.5 0 1 0 -3.0 0M362.62 370.39a1.5 1.5 0 1 0 3.0 0a1.5 1.5 0 1 0 -3.0 0M369.90 370.39a1.5 1.5 0 1 0 3.0 0a1.5 1.5 0 1 0 -3.0 0M377.18 370.39a1.5 1.5 0 1 0 3.0 0a1.5 1.5 0 1 0 -3.0 0M384.45 370.39a1.5 1.5 0 1 0 3.0 0a1.5 1.5 0 1 0 -3.0 0M544.52 138.34a1.5 1.5 0 1 0 3.0 0a1.5 1.5 0 1 0 -3.0 0M551.80 138.34a1.5 1.5 0 1 0 3.0 0a1.5 1.5 0 1 0 -3.0 0M559.08 138.34a1.5 1.5 0 1 0 3.0 0a1.5 1.5 0 1 0 -3.0 0M566.35 138.34a1.5 1.5 0 1 0 3.0 0a1.5 1.5 0 1 0 -3.0 0M573.63 138.34a1.5 1.5 0 1 0 3.0 0a1.5 1.5 0 1 0 -3.0 0M580.90 138.34a1.5 1.5 0 1 0 3.0 0a1.5 1.5 0 1 0 -3.0 0M548.16 145.59a1.5 1.5 0 1 0 3.0 0a1.5 1.5 0 1 0 -3.0 0M555.44 145.59a1.5 1.5 0 1 0 3.0 0a1.5 1.5 0 1 0 -3.0 0M562.71 145.59a1.5 1.5 0 1 0 3.0 0a1.5 1.5 0 1 0 -3.0 0M569.99 145.59a1.5 1.5 0 1 0 3.0 0a1.5 1.5 0 1 0 -3.0 0M577.27 145.59a1.5 1.5 0 1 0 3.0 0a1.5 1.5 0 1 0 -3.0 0M544.52 152.85a1.5 1.5 0 1 0 3.0 0a1.5 1.5 0 1 0 -3.0 0M551.80 152.85a1.5 1.5 0 1 0 3.0 0a1.5 1.5 0 1 0 -3.0 0M559.08 152.85a1.5 1.5 0 1 0 3.0 0a1.5 1.5 0 1 0 -3.0 0M566.35 152.85a1.5 1.5 0 1 0 3.0 0a1.5 1.5 0 1 0 -3.0 0M573.63 152.85a1.5 1.5 0 1 0 3.0 0a1.5 1.5 0 1 0 -3.0 0M580.90 152.85a1.5 1.5 0 1 0 3.0 0a1.5 1.5 0 1 0 -3.0 0M548.16 160.10a1.5 1.5 0 1 0 3.0 0a1.5 1.5 0 1 0 -3.0 0M555.44 160.10a1.5 1.5 0 1 0 3.0 0a1.5 1.5 0 1 0 -3.0 0M562.71 160.10a1.5 1.5 0 1 0 3.0 0a1.5 1.5 0 1 0 -3.0 0M569.99 160.10a1.5 1.5 0 1 0 3.0 0a1.5 1.5 0 1 0 -3.0 0M577.27 160.10a1.5 1.5 0 1 0 3.0 0a1.5 1.5 0 1 0 -3.0 0M544.52 167.35a1.5 1.5 0 1 0 3.0 0a1.5 1.5 0 1 0 -3.0 0M551.80 167.35a1.5 1.5 0 1 0 3.0 0a1.5 1.5 0 1 0 -3.0 0M559.08 167.35a1.5 1.5 0 1 0 3.0 0a1.5 1.5 0 1 0 -3.0 0M566.35 167.35a1.5 1.5 0 1 0 3.0 0a1.5 1.5 0 1 0 -3.0 0M573.63 167.35a1.5 1.5 0 1 0 3.0 0a1.5 1.5 0 1 0 -3.0 0M580.90 167.35a1.5 1.5 0 1 0 3.0 0a1.5 1.5 0 1 0 -3.0 0M548.16 174.60a1.5 1.5 0 1 0 3.0 0a1.5 1.5 0 1 0 -3.0 0M555.44 174.60a1.5 1.5 0 1 0 3.0 0a1.5 1.5 0 1 0 -3.0 0M562.71 174.60a1.5 1.5 0 1 0 3.0 0a1.5 1.5 0 1 0 -3.0 0M569.99 174.60a1.5 1.5 0 1 0 3.0 0a1.5 1.5 0 1 0 -3.0 0M577.27 174.60a1.5 1.5 0 1 0 3.0 0a1.5 1.5 0 1 0 -3.0 0M544.52 181.85a1.5 1.5 0 1 0 3.0 0a1.5 1.5 0 1 0 -3.0 0M551.80 181.85a1.5 1.5 0 1 0 3.0 0a1.5 1.5 0 1 0 -3.0 0M559.08 181.85a1.5 1.5 0 1 0 3.0 0a1.5 1.5 0 1 0 -3.0 0M566.35 181.85a1.5 1.5 0 1 0 3.0 0a1.5 1.5 0 1 0 -3.0 0M573.63 181.85a1.5 1.5 0 1 0 3.0 0a1.5 1.5 0 1 0 -3.0 0M580.90 181.85a1.5 1.5 0 1 0 3.0 0a1.5 1.5 0 1 0 -3.0 0M548.16 189.10a1.5 1.5 0 1 0 3.0 0a1.5 1.5 0 1 0 -3.0 0M555.44 189.10a1.5 1.5 0 1 0 3.0 0a1.5 1.5 0 1 0 -3.0 0M562.71 189.10a1.5 1.5 0 1 0 3.0 0a1.5 1.5 0 1 0 -3.0 0M569.99 189.10a1.5 1.5 0 1 0 3.0 0a1.5 1.5 0 1 0 -3.0 0M577.27 189.10a1.5 1.5 0 1 0 3.0 0a1.5 1.5 0 1 0 -3.0 0M544.52 196.35a1.5 1.5 0 1 0 3.0 0a1.5 1.5 0 1 0 -3.0 0M551.80 196.35a1.5 1.5 0 1 0 3.0 0a1.5 1.5 0 1 0 -3.0 0M559.08 196.35a1.5 1.5 0 1 0 3.0 0a1.5 1.5 0 1 0 -3.0 0M566.35 196.35a1.5 1.5 0 1 0 3.0 0a1.5 1.5 0 1 0 -3.0 0M573.63 196.35a1.5 1.5 0 1 0 3.0 0a1.5 1.5 0 1 0 -3.0 0M580.90 196.35a1.5 1.5 0 1 0 3.0 0a1.5 1.5 0 1 0 -3.0 0M548.16 203.61a1.5 1.5 0 1 0 3.0 0a1.5 1.5 0 1 0 -3.0 0M555.44 203.61a1.5 1.5 0 1 0 3.0 0a1.5 1.5 0 1 0 -3.0 0M562.71 203.61a1.5 1.5 0 1 0 3.0 0a1.5 1.5 0 1 0 -3.0 0M569.99 203.61a1.5 1.5 0 1 0 3.0 0a1.5 1.5 0 1 0 -3.0 0M577.27 203.61a1.5 1.5 0 1 0 3.0 0a1.5 1.5 0 1 0 -3.0 0M544.52 210.86a1.5 1.5 0 1 0 3.0 0a1.5 1.5 0 1 0 -3.0 0M551.80 210.86a1.5 1.5 0 1 0 3.0 0a1.5 1.5 0 1 0 -3.0 0M559.08 210.86a1.5 1.5 0 1 0 3.0 0a1.5 1.5 0 1 0 -3.0 0M566.35 210.86a1.5 1.5 0 1 0 3.0 0a1.5 1.5 0 1 0 -3.0 0M573.63 210.86a1.5 1.5 0 1 0 3.0 0a1.5 1.5 0 1 0 -3.0 0M580.90 210.86a1.5 1.5 0 1 0 3.0 0a1.5 1.5 0 1 0 -3.0 0M548.16 218.11a1.5 1.5 0 1 0 3.0 0a1.5 1.5 0 1 0 -3.0 0M555.44 218.11a1.5 1.5 0 1 0 3.0 0a1.5 1.5 0 1 0 -3.0 0M562.71 218.11a1.5 1.5 0 1 0 3.0 0a1.5 1.5 0 1 0 -3.0 0M569.99 218.11a1.5 1.5 0 1 0 3.0 0a1.5 1.5 0 1 0 -3.0 0M577.27 218.11a1.5 1.5 0 1 0 3.0 0a1.5 1.5 0 1 0 -3.0 0M544.52 225.36a1.5 1.5 0 1 0 3.0 0a1.5 1.5 0 1 0 -3.0 0M551.80 225.36a1.5 1.5 0 1 0 3.0 0a1.5 1.5 0 1 0 -3.0 0M559.08 225.36a1.5 1.5 0 1 0 3.0 0a1.5 1.5 0 1 0 -3.0 0M566.35 225.36a1.5 1.5 0 1 0 3.0 0a1.5 1.5 0 1 0 -3.0 0M573.63 225.36a1.5 1.5 0 1 0 3.0 0a1.5 1.5 0 1 0 -3.0 0M580.90 225.36a1.5 1.5 0 1 0 3.0 0a1.5 1.5 0 1 0 -3.0 0M548.16 232.61a1.5 1.5 0 1 0 3.0 0a1.5 1.5 0 1 0 -3.0 0M555.44 232.61a1.5 1.5 0 1 0 3.0 0a1.5 1.5 0 1 0 -3.0 0M562.71 232.61a1.5 1.5 0 1 0 3.0 0a1.5 1.5 0 1 0 -3.0 0M569.99 232.61a1.5 1.5 0 1 0 3.0 0a1.5 1.5 0 1 0 -3.0 0M577.27 232.61a1.5 1.5 0 1 0 3.0 0a1.5 1.5 0 1 0 -3.0 0M544.52 239.86a1.5 1.5 0 1 0 3.0 0a1.5 1.5 0 1 0 -3.0 0M551.80 239.86a1.5 1.5 0 1 0 3.0 0a1.5 1.5 0 1 0 -3.0 0M559.08 239.86a1.5 1.5 0 1 0 3.0 0a1.5 1.5 0 1 0 -3.0 0M566.35 239.86a1.5 1.5 0 1 0 3.0 0a1.5 1.5 0 1 0 -3.0 0M573.63 239.86a1.5 1.5 0 1 0 3.0 0a1.5 1.5 0 1 0 -3.0 0M580.90 239.86a1.5 1.5 0 1 0 3.0 0a1.5 1.5 0 1 0 -3.0 0M548.16 247.12a1.5 1.5 0 1 0 3.0 0a1.5 1.5 0 1 0 -3.0 0M555.44 247.12a1.5 1.5 0 1 0 3.0 0a1.5 1.5 0 1 0 -3.0 0M562.71 247.12a1.5 1.5 0 1 0 3.0 0a1.5 1.5 0 1 0 -3.0 0M569.99 247.12a1.5 1.5 0 1 0 3.0 0a1.5 1.5 0 1 0 -3.0 0M577.27 247.12a1.5 1.5 0 1 0 3.0 0a1.5 1.5 0 1 0 -3.0 0M544.52 254.37a1.5 1.5 0 1 0 3.0 0a1.5 1.5 0 1 0 -3.0 0M551.80 254.37a1.5 1.5 0 1 0 3.0 0a1.5 1.5 0 1 0 -3.0 0M559.08 254.37a1.5 1.5 0 1 0 3.0 0a1.5 1.5 0 1 0 -3.0 0M566.35 254.37a1.5 1.5 0 1 0 3.0 0a1.5 1.5 0 1 0 -3.0 0M573.63 254.37a1.5 1.5 0 1 0 3.0 0a1.5 1.5 0 1 0 -3.0 0M580.90 254.37a1.5 1.5 0 1 0 3.0 0a1.5 1.5 0 1 0 -3.0 0M548.16 261.62a1.5 1.5 0 1 0 3.0 0a1.5 1.5 0 1 0 -3.0 0M555.44 261.62a1.5 1.5 0 1 0 3.0 0a1.5 1.5 0 1 0 -3.0 0M562.71 261.62a1.5 1.5 0 1 0 3.0 0a1.5 1.5 0 1 0 -3.0 0M569.99 261.62a1.5 1.5 0 1 0 3.0 0a1.5 1.5 0 1 0 -3.0 0M577.27 261.62a1.5 1.5 0 1 0 3.0 0a1.5 1.5 0 1 0 -3.0 0M544.52 268.87a1.5 1.5 0 1 0 3.0 0a1.5 1.5 0 1 0 -3.0 0M551.80 268.87a1.5 1.5 0 1 0 3.0 0a1.5 1.5 0 1 0 -3.0 0M559.08 268.87a1.5 1.5 0 1 0 3.0 0a1.5 1.5 0 1 0 -3.0 0M566.35 268.87a1.5 1.5 0 1 0 3.0 0a1.5 1.5 0 1 0 -3.0 0M573.63 268.87a1.5 1.5 0 1 0 3.0 0a1.5 1.5 0 1 0 -3.0 0M580.90 268.87a1.5 1.5 0 1 0 3.0 0a1.5 1.5 0 1 0 -3.0 0M548.16 276.12a1.5 1.5 0 1 0 3.0 0a1.5 1.5 0 1 0 -3.0 0M555.44 276.12a1.5 1.5 0 1 0 3.0 0a1.5 1.5 0 1 0 -3.0 0M562.71 276.12a1.5 1.5 0 1 0 3.0 0a1.5 1.5 0 1 0 -3.0 0M569.99 276.12a1.5 1.5 0 1 0 3.0 0a1.5 1.5 0 1 0 -3.0 0M577.27 276.12a1.5 1.5 0 1 0 3.0 0a1.5 1.5 0 1 0 -3.0 0M544.52 283.37a1.5 1.5 0 1 0 3.0 0a1.5 1.5 0 1 0 -3.0 0M551.80 283.37a1.5 1.5 0 1 0 3.0 0a1.5 1.5 0 1 0 -3.0 0M559.08 283.37a1.5 1.5 0 1 0 3.0 0a1.5 1.5 0 1 0 -3.0 0M566.35 283.37a1.5 1.5 0 1 0 3.0 0a1.5 1.5 0 1 0 -3.0 0M573.63 283.37a1.5 1.5 0 1 0 3.0 0a1.5 1.5 0 1 0 -3.0 0M580.90 283.37a1.5 1.5 0 1 0 3.0 0a1.5 1.5 0 1 0 -3.0 0M548.16 290.62a1.5 1.5 0 1 0 3.0 0a1.5 1.5 0 1 0 -3.0 0M555.44 290.62a1.5 1.5 0 1 0 3.0 0a1.5 1.5 0 1 0 -3.0 0M562.71 290.62a1.5 1.5 0 1 0 3.0 0a1.5 1.5 0 1 0 -3.0 0M569.99 290.62a1.5 1.5 0 1 0 3.0 0a1.5 1.5 0 1 0 -3.0 0M577.27 290.62a1.5 1.5 0 1 0 3.0 0a1.5 1.5 0 1 0 -3.0 0M544.52 297.88a1.5 1.5 0 1 0 3.0 0a1.5 1.5 0 1 0 -3.0 0M551.80 297.88a1.5 1.5 0 1 0 3.0 0a1.5 1.5 0 1 0 -3.0 0M559.08 297.88a1.5 1.5 0 1 0 3.0 0a1.5 1.5 0 1 0 -3.0 0M566.35 297.88a1.5 1.5 0 1 0 3.0 0a1.5 1.5 0 1 0 -3.0 0M573.63 297.88a1.5 1.5 0 1 0 3.0 0a1.5 1.5 0 1 0 -3.0 0M580.90 297.88a1.5 1.5 0 1 0 3.0 0a1.5 1.5 0 1 0 -3.0 0M548.16 305.13a1.5 1.5 0 1 0 3.0 0a1.5 1.5 0 1 0 -3.0 0M555.44 305.13a1.5 1.5 0 1 0 3.0 0a1.5 1.5 0 1 0 -3.0 0M562.71 305.13a1.5 1.5 0 1 0 3.0 0a1.5 1.5 0 1 0 -3.0 0M569.99 305.13a1.5 1.5 0 1 0 3.0 0a1.5 1.5 0 1 0 -3.0 0M577.27 305.13a1.5 1.5 0 1 0 3.0 0a1.5 1.5 0 1 0 -3.0 0M544.52 312.38a1.5 1.5 0 1 0 3.0 0a1.5 1.5 0 1 0 -3.0 0M551.80 312.38a1.5 1.5 0 1 0 3.0 0a1.5 1.5 0 1 0 -3.0 0M559.08 312.38a1.5 1.5 0 1 0 3.0 0a1.5 1.5 0 1 0 -3.0 0M566.35 312.38a1.5 1.5 0 1 0 3.0 0a1.5 1.5 0 1 0 -3.0 0M573.63 312.38a1.5 1.5 0 1 0 3.0 0a1.5 1.5 0 1 0 -3.0 0M580.90 312.38a1.5 1.5 0 1 0 3.0 0a1.5 1.5 0 1 0 -3.0 0M548.16 319.63a1.5 1.5 0 1 0 3.0 0a1.5 1.5 0 1 0 -3.0 0M555.44 319.63a1.5 1.5 0 1 0 3.0 0a1.5 1.5 0 1 0 -3.0 0M562.71 319.63a1.5 1.5 0 1 0 3.0 0a1.5 1.5 0 1 0 -3.0 0M569.99 319.63a1.5 1.5 0 1 0 3.0 0a1.5 1.5 0 1 0 -3.0 0M577.27 319.63a1.5 1.5 0 1 0 3.0 0a1.5 1.5 0 1 0 -3.0 0M544.52 326.88a1.5 1.5 0 1 0 3.0 0a1.5 1.5 0 1 0 -3.0 0M551.80 326.88a1.5 1.5 0 1 0 3.0 0a1.5 1.5 0 1 0 -3.0 0M559.08 326.88a1.5 1.5 0 1 0 3.0 0a1.5 1.5 0 1 0 -3.0 0M566.35 326.88a1.5 1.5 0 1 0 3.0 0a1.5 1.5 0 1 0 -3.0 0M573.63 326.88a1.5 1.5 0 1 0 3.0 0a1.5 1.5 0 1 0 -3.0 0M580.90 326.88a1.5 1.5 0 1 0 3.0 0a1.5 1.5 0 1 0 -3.0 0M548.16 334.13a1.5 1.5 0 1 0 3.0 0a1.5 1.5 0 1 0 -3.0 0M555.44 334.13a1.5 1.5 0 1 0 3.0 0a1.5 1.5 0 1 0 -3.0 0M562.71 334.13a1.5 1.5 0 1 0 3.0 0a1.5 1.5 0 1 0 -3.0 0M569.99 334.13a1.5 1.5 0 1 0 3.0 0a1.5 1.5 0 1 0 -3.0 0M577.27 334.13a1.5 1.5 0 1 0 3.0 0a1.5 1.5 0 1 0 -3.0 0M544.52 341.38a1.5 1.5 0 1 0 3.0 0a1.5 1.5 0 1 0 -3.0 0M551.80 341.38a1.5 1.5 0 1 0 3.0 0a1.5 1.5 0 1 0 -3.0 0M559.08 341.38a1.5 1.5 0 1 0 3.0 0a1.5 1.5 0 1 0 -3.0 0M566.35 341.38a1.5 1.5 0 1 0 3.0 0a1.5 1.5 0 1 0 -3.0 0M573.63 341.38a1.5 1.5 0 1 0 3.0 0a1.5 1.5 0 1 0 -3.0 0M580.90 341.38a1.5 1.5 0 1 0 3.0 0a1.5 1.5 0 1 0 -3.0 0M548.16 348.64a1.5 1.5 0 1 0 3.0 0a1.5 1.5 0 1 0 -3.0 0M555.44 348.64a1.5 1.5 0 1 0 3.0 0a1.5 1.5 0 1 0 -3.0 0M562.71 348.64a1.5 1.5 0 1 0 3.0 0a1.5 1.5 0 1 0 -3.0 0M569.99 348.64a1.5 1.5 0 1 0 3.0 0a1.5 1.5 0 1 0 -3.0 0M577.27 348.64a1.5 1.5 0 1 0 3.0 0a1.5 1.5 0 1 0 -3.0 0M544.52 355.89a1.5 1.5 0 1 0 3.0 0a1.5 1.5 0 1 0 -3.0 0M551.80 355.89a1.5 1.5 0 1 0 3.0 0a1.5 1.5 0 1 0 -3.0 0M559.08 355.89a1.5 1.5 0 1 0 3.0 0a1.5 1.5 0 1 0 -3.0 0M566.35 355.89a1.5 1.5 0 1 0 3.0 0a1.5 1.5 0 1 0 -3.0 0M573.63 355.89a1.5 1.5 0 1 0 3.0 0a1.5 1.5 0 1 0 -3.0 0M580.90 355.89a1.5 1.5 0 1 0 3.0 0a1.5 1.5 0 1 0 -3.0 0M548.16 363.14a1.5 1.5 0 1 0 3.0 0a1.5 1.5 0 1 0 -3.0 0M555.44 363.14a1.5 1.5 0 1 0 3.0 0a1.5 1.5 0 1 0 -3.0 0M562.71 363.14a1.5 1.5 0 1 0 3.0 0a1.5 1.5 0 1 0 -3.0 0M569.99 363.14a1.5 1.5 0 1 0 3.0 0a1.5 1.5 0 1 0 -3.0 0M577.27 363.14a1.5 1.5 0 1 0 3.0 0a1.5 1.5 0 1 0 -3.0 0M544.52 370.39a1.5 1.5 0 1 0 3.0 0a1.5 1.5 0 1 0 -3.0 0M551.80 370.39a1.5 1.5 0 1 0 3.0 0a1.5 1.5 0 1 0 -3.0 0M559.08 370.39a1.5 1.5 0 1 0 3.0 0a1.5 1.5 0 1 0 -3.0 0M566.35 370.39a1.5 1.5 0 1 0 3.0 0a1.5 1.5 0 1 0 -3.0 0M573.63 370.39a1.5 1.5 0 1 0 3.0 0a1.5 1.5 0 1 0 -3.0 0M580.90 370.39a1.5 1.5 0 1 0 3.0 0a1.5 1.5 0 1 0 -3.0 0M573.63 94.83a1.5 1.5 0 1 0 3.0 0a1.5 1.5 0 1 0 -3.0 0M580.90 94.83a1.5 1.5 0 1 0 3.0 0a1.5 1.5 0 1 0 -3.0 0M588.18 94.83a1.5 1.5 0 1 0 3.0 0a1.5 1.5 0 1 0 -3.0 0M595.46 94.83a1.5 1.5 0 1 0 3.0 0a1.5 1.5 0 1 0 -3.0 0M602.73 94.83a1.5 1.5 0 1 0 3.0 0a1.5 1.5 0 1 0 -3.0 0M569.99 102.09a1.5 1.5 0 1 0 3.0 0a1.5 1.5 0 1 0 -3.0 0M577.27 102.09a1.5 1.5 0 1 0 3.0 0a1.5 1.5 0 1 0 -3.0 0M584.54 102.09a1.5 1.5 0 1 0 3.0 0a1.5 1.5 0 1 0 -3.0 0M591.82 102.09a1.5 1.5 0 1 0 3.0 0a1.5 1.5 0 1 0 -3.0 0M599.09 102.09a1.5 1.5 0 1 0 3.0 0a1.5 1.5 0 1 0 -3.0 0M606.37 102.09a1.5 1.5 0 1 0 3.0 0a1.5 1.5 0 1 0 -3.0 0M573.63 109.34a1.5 1.5 0 1 0 3.0 0a1.5 1.5 0 1 0 -3.0 0M580.90 109.34a1.5 1.5 0 1 0 3.0 0a1.5 1.5 0 1 0 -3.0 0M588.18 109.34a1.5 1.5 0 1 0 3.0 0a1.5 1.5 0 1 0 -3.0 0M595.46 109.34a1.5 1.5 0 1 0 3.0 0a1.5 1.5 0 1 0 -3.0 0M602.73 109.34a1.5 1.5 0 1 0 3.0 0a1.5 1.5 0 1 0 -3.0 0M569.99 116.59a1.5 1.5 0 1 0 3.0 0a1.5 1.5 0 1 0 -3.0 0M577.27 116.59a1.5 1.5 0 1 0 3.0 0a1.5 1.5 0 1 0 -3.0 0M584.54 116.59a1.5 1.5 0 1 0 3.0 0a1.5 1.5 0 1 0 -3.0 0M591.82 116.59a1.5 1.5 0 1 0 3.0 0a1.5 1.5 0 1 0 -3.0 0M599.09 116.59a1.5 1.5 0 1 0 3.0 0a1.5 1.5 0 1 0 -3.0 0M606.37 116.59a1.5 1.5 0 1 0 3.0 0a1.5 1.5 0 1 0 -3.0 0M573.63 123.84a1.5 1.5 0 1 0 3.0 0a1.5 1.5 0 1 0 -3.0 0M580.90 123.84a1.5 1.5 0 1 0 3.0 0a1.5 1.5 0 1 0 -3.0 0M588.18 123.84a1.5 1.5 0 1 0 3.0 0a1.5 1.5 0 1 0 -3.0 0M595.46 123.84a1.5 1.5 0 1 0 3.0 0a1.5 1.5 0 1 0 -3.0 0M602.73 123.84a1.5 1.5 0 1 0 3.0 0a1.5 1.5 0 1 0 -3.0 0M569.99 131.09a1.5 1.5 0 1 0 3.0 0a1.5 1.5 0 1 0 -3.0 0M577.27 131.09a1.5 1.5 0 1 0 3.0 0a1.5 1.5 0 1 0 -3.0 0M584.54 131.09a1.5 1.5 0 1 0 3.0 0a1.5 1.5 0 1 0 -3.0 0M591.82 131.09a1.5 1.5 0 1 0 3.0 0a1.5 1.5 0 1 0 -3.0 0M599.09 131.09a1.5 1.5 0 1 0 3.0 0a1.5 1.5 0 1 0 -3.0 0M606.37 131.09a1.5 1.5 0 1 0 3.0 0a1.5 1.5 0 1 0 -3.0 0M573.63 138.34a1.5 1.5 0 1 0 3.0 0a1.5 1.5 0 1 0 -3.0 0M580.90 138.34a1.5 1.5 0 1 0 3.0 0a1.5 1.5 0 1 0 -3.0 0M588.18 138.34a1.5 1.5 0 1 0 3.0 0a1.5 1.5 0 1 0 -3.0 0M595.46 138.34a1.5 1.5 0 1 0 3.0 0a1.5 1.5 0 1 0 -3.0 0M602.73 138.34a1.5 1.5 0 1 0 3.0 0a1.5 1.5 0 1 0 -3.0 0M569.99 145.59a1.5 1.5 0 1 0 3.0 0a1.5 1.5 0 1 0 -3.0 0M577.27 145.59a1.5 1.5 0 1 0 3.0 0a1.5 1.5 0 1 0 -3.0 0M584.54 145.59a1.5 1.5 0 1 0 3.0 0a1.5 1.5 0 1 0 -3.0 0M591.82 145.59a1.5 1.5 0 1 0 3.0 0a1.5 1.5 0 1 0 -3.0 0M599.09 145.59a1.5 1.5 0 1 0 3.0 0a1.5 1.5 0 1 0 -3.0 0M606.37 145.59a1.5 1.5 0 1 0 3.0 0a1.5 1.5 0 1 0 -3.0 0M573.63 152.85a1.5 1.5 0 1 0 3.0 0a1.5 1.5 0 1 0 -3.0 0M580.90 152.85a1.5 1.5 0 1 0 3.0 0a1.5 1.5 0 1 0 -3.0 0M588.18 152.85a1.5 1.5 0 1 0 3.0 0a1.5 1.5 0 1 0 -3.0 0M595.46 152.85a1.5 1.5 0 1 0 3.0 0a1.5 1.5 0 1 0 -3.0 0M602.73 152.85a1.5 1.5 0 1 0 3.0 0a1.5 1.5 0 1 0 -3.0 0M569.99 160.10a1.5 1.5 0 1 0 3.0 0a1.5 1.5 0 1 0 -3.0 0M577.27 160.10a1.5 1.5 0 1 0 3.0 0a1.5 1.5 0 1 0 -3.0 0M584.54 160.10a1.5 1.5 0 1 0 3.0 0a1.5 1.5 0 1 0 -3.0 0M591.82 160.10a1.5 1.5 0 1 0 3.0 0a1.5 1.5 0 1 0 -3.0 0M599.09 160.10a1.5 1.5 0 1 0 3.0 0a1.5 1.5 0 1 0 -3.0 0M606.37 160.10a1.5 1.5 0 1 0 3.0 0a1.5 1.5 0 1 0 -3.0 0M573.63 167.35a1.5 1.5 0 1 0 3.0 0a1.5 1.5 0 1 0 -3.0 0M580.90 167.35a1.5 1.5 0 1 0 3.0 0a1.5 1.5 0 1 0 -3.0 0M588.18 167.35a1.5 1.5 0 1 0 3.0 0a1.5 1.5 0 1 0 -3.0 0M595.46 167.35a1.5 1.5 0 1 0 3.0 0a1.5 1.5 0 1 0 -3.0 0M602.73 167.35a1.5 1.5 0 1 0 3.0 0a1.5 1.5 0 1 0 -3.0 0M569.99 174.60a1.5 1.5 0 1 0 3.0 0a1.5 1.5 0 1 0 -3.0 0M577.27 174.60a1.5 1.5 0 1 0 3.0 0a1.5 1.5 0 1 0 -3.0 0M584.54 174.60a1.5 1.5 0 1 0 3.0 0a1.5 1.5 0 1 0 -3.0 0M591.82 174.60a1.5 1.5 0 1 0 3.0 0a1.5 1.5 0 1 0 -3.0 0M599.09 174.60a1.5 1.5 0 1 0 3.0 0a1.5 1.5 0 1 0 -3.0 0M606.37 174.60a1.5 1.5 0 1 0 3.0 0a1.5 1.5 0 1 0 -3.0 0M573.63 181.85a1.5 1.5 0 1 0 3.0 0a1.5 1.5 0 1 0 -3.0 0M580.90 181.85a1.5 1.5 0 1 0 3.0 0a1.5 1.5 0 1 0 -3.0 0M588.18 181.85a1.5 1.5 0 1 0 3.0 0a1.5 1.5 0 1 0 -3.0 0M595.46 181.85a1.5 1.5 0 1 0 3.0 0a1.5 1.5 0 1 0 -3.0 0M602.73 181.85a1.5 1.5 0 1 0 3.0 0a1.5 1.5 0 1 0 -3.0 0M569.99 189.10a1.5 1.5 0 1 0 3.0 0a1.5 1.5 0 1 0 -3.0 0M577.27 189.10a1.5 1.5 0 1 0 3.0 0a1.5 1.5 0 1 0 -3.0 0M584.54 189.10a1.5 1.5 0 1 0 3.0 0a1.5 1.5 0 1 0 -3.0 0M591.82 189.10a1.5 1.5 0 1 0 3.0 0a1.5 1.5 0 1 0 -3.0 0M599.09 189.10a1.5 1.5 0 1 0 3.0 0a1.5 1.5 0 1 0 -3.0 0M606.37 189.10a1.5 1.5 0 1 0 3.0 0a1.5 1.5 0 1 0 -3.0 0M573.63 196.35a1.5 1.5 0 1 0 3.0 0a1.5 1.5 0 1 0 -3.0 0M580.90 196.35a1.5 1.5 0 1 0 3.0 0a1.5 1.5 0 1 0 -3.0 0M588.18 196.35a1.5 1.5 0 1 0 3.0 0a1.5 1.5 0 1 0 -3.0 0M595.46 196.35a1.5 1.5 0 1 0 3.0 0a1.5 1.5 0 1 0 -3.0 0M602.73 196.35a1.5 1.5 0 1 0 3.0 0a1.5 1.5 0 1 0 -3.0 0M569.99 203.61a1.5 1.5 0 1 0 3.0 0a1.5 1.5 0 1 0 -3.0 0M577.27 203.61a1.5 1.5 0 1 0 3.0 0a1.5 1.5 0 1 0 -3.0 0M584.54 203.61a1.5 1.5 0 1 0 3.0 0a1.5 1.5 0 1 0 -3.0 0M591.82 203.61a1.5 1.5 0 1 0 3.0 0a1.5 1.5 0 1 0 -3.0 0M599.09 203.61a1.5 1.5 0 1 0 3.0 0a1.5 1.5 0 1 0 -3.0 0M606.37 203.61a1.5 1.5 0 1 0 3.0 0a1.5 1.5 0 1 0 -3.0 0M573.63 210.86a1.5 1.5 0 1 0 3.0 0a1.5 1.5 0 1 0 -3.0 0M580.90 210.86a1.5 1.5 0 1 0 3.0 0a1.5 1.5 0 1 0 -3.0 0M588.18 210.86a1.5 1.5 0 1 0 3.0 0a1.5 1.5 0 1 0 -3.0 0M595.46 210.86a1.5 1.5 0 1 0 3.0 0a1.5 1.5 0 1 0 -3.0 0M602.73 210.86a1.5 1.5 0 1 0 3.0 0a1.5 1.5 0 1 0 -3.0 0M569.99 218.11a1.5 1.5 0 1 0 3.0 0a1.5 1.5 0 1 0 -3.0 0M577.27 218.11a1.5 1.5 0 1 0 3.0 0a1.5 1.5 0 1 0 -3.0 0M584.54 218.11a1.5 1.5 0 1 0 3.0 0a1.5 1.5 0 1 0 -3.0 0M591.82 218.11a1.5 1.5 0 1 0 3.0 0a1.5 1.5 0 1 0 -3.0 0M599.09 218.11a1.5 1.5 0 1 0 3.0 0a1.5 1.5 0 1 0 -3.0 0M606.37 218.11a1.5 1.5 0 1 0 3.0 0a1.5 1.5 0 1 0 -3.0 0M573.63 225.36a1.5 1.5 0 1 0 3.0 0a1.5 1.5 0 1 0 -3.0 0M580.90 225.36a1.5 1.5 0 1 0 3.0 0a1.5 1.5 0 1 0 -3.0 0M588.18 225.36a1.5 1.5 0 1 0 3.0 0a1.5 1.5 0 1 0 -3.0 0M595.46 225.36a1.5 1.5 0 1 0 3.0 0a1.5 1.5 0 1 0 -3.0 0M602.73 225.36a1.5 1.5 0 1 0 3.0 0a1.5 1.5 0 1 0 -3.0 0M569.99 232.61a1.5 1.5 0 1 0 3.0 0a1.5 1.5 0 1 0 -3.0 0M577.27 232.61a1.5 1.5 0 1 0 3.0 0a1.5 1.5 0 1 0 -3.0 0M584.54 232.61a1.5 1.5 0 1 0 3.0 0a1.5 1.5 0 1 0 -3.0 0M591.82 232.61a1.5 1.5 0 1 0 3.0 0a1.5 1.5 0 1 0 -3.0 0M599.09 232.61a1.5 1.5 0 1 0 3.0 0a1.5 1.5 0 1 0 -3.0 0M606.37 232.61a1.5 1.5 0 1 0 3.0 0a1.5 1.5 0 1 0 -3.0 0M573.63 239.86a1.5 1.5 0 1 0 3.0 0a1.5 1.5 0 1 0 -3.0 0M580.90 239.86a1.5 1.5 0 1 0 3.0 0a1.5 1.5 0 1 0 -3.0 0M588.18 239.86a1.5 1.5 0 1 0 3.0 0a1.5 1.5 0 1 0 -3.0 0M595.46 239.86a1.5 1.5 0 1 0 3.0 0a1.5 1.5 0 1 0 -3.0 0M602.73 239.86a1.5 1.5 0 1 0 3.0 0a1.5 1.5 0 1 0 -3.0 0M569.99 247.12a1.5 1.5 0 1 0 3.0 0a1.5 1.5 0 1 0 -3.0 0M577.27 247.12a1.5 1.5 0 1 0 3.0 0a1.5 1.5 0 1 0 -3.0 0M584.54 247.12a1.5 1.5 0 1 0 3.0 0a1.5 1.5 0 1 0 -3.0 0M591.82 247.12a1.5 1.5 0 1 0 3.0 0a1.5 1.5 0 1 0 -3.0 0M599.09 247.12a1.5 1.5 0 1 0 3.0 0a1.5 1.5 0 1 0 -3.0 0M606.37 247.12a1.5 1.5 0 1 0 3.0 0a1.5 1.5 0 1 0 -3.0 0M573.63 254.37a1.5 1.5 0 1 0 3.0 0a1.5 1.5 0 1 0 -3.0 0M580.90 254.37a1.5 1.5 0 1 0 3.0 0a1.5 1.5 0 1 0 -3.0 0M588.18 254.37a1.5 1.5 0 1 0 3.0 0a1.5 1.5 0 1 0 -3.0 0M595.46 254.37a1.5 1.5 0 1 0 3.0 0a1.5 1.5 0 1 0 -3.0 0M602.73 254.37a1.5 1.5 0 1 0 3.0 0a1.5 1.5 0 1 0 -3.0 0M569.99 261.62a1.5 1.5 0 1 0 3.0 0a1.5 1.5 0 1 0 -3.0 0M577.27 261.62a1.5 1.5 0 1 0 3.0 0a1.5 1.5 0 1 0 -3.0 0M584.54 261.62a1.5 1.5 0 1 0 3.0 0a1.5 1.5 0 1 0 -3.0 0M591.82 261.62a1.5 1.5 0 1 0 3.0 0a1.5 1.5 0 1 0 -3.0 0M599.09 261.62a1.5 1.5 0 1 0 3.0 0a1.5 1.5 0 1 0 -3.0 0M606.37 261.62a1.5 1.5 0 1 0 3.0 0a1.5 1.5 0 1 0 -3.0 0M573.63 268.87a1.5 1.5 0 1 0 3.0 0a1.5 1.5 0 1 0 -3.0 0M580.90 268.87a1.5 1.5 0 1 0 3.0 0a1.5 1.5 0 1 0 -3.0 0M588.18 268.87a1.5 1.5 0 1 0 3.0 0a1.5 1.5 0 1 0 -3.0 0M595.46 268.87a1.5 1.5 0 1 0 3.0 0a1.5 1.5 0 1 0 -3.0 0M602.73 268.87a1.5 1.5 0 1 0 3.0 0a1.5 1.5 0 1 0 -3.0 0M569.99 276.12a1.5 1.5 0 1 0 3.0 0a1.5 1.5 0 1 0 -3.0 0M577.27 276.12a1.5 1.5 0 1 0 3.0 0a1.5 1.5 0 1 0 -3.0 0M584.54 276.12a1.5 1.5 0 1 0 3.0 0a1.5 1.5 0 1 0 -3.0 0M591.82 276.12a1.5 1.5 0 1 0 3.0 0a1.5 1.5 0 1 0 -3.0 0M599.09 276.12a1.5 1.5 0 1 0 3.0 0a1.5 1.5 0 1 0 -3.0 0M606.37 276.12a1.5 1.5 0 1 0 3.0 0a1.5 1.5 0 1 0 -3.0 0M573.63 283.37a1.5 1.5 0 1 0 3.0 0a1.5 1.5 0 1 0 -3.0 0M580.90 283.37a1.5 1.5 0 1 0 3.0 0a1.5 1.5 0 1 0 -3.0 0M588.18 283.37a1.5 1.5 0 1 0 3.0 0a1.5 1.5 0 1 0 -3.0 0M595.46 283.37a1.5 1.5 0 1 0 3.0 0a1.5 1.5 0 1 0 -3.0 0M602.73 283.37a1.5 1.5 0 1 0 3.0 0a1.5 1.5 0 1 0 -3.0 0M569.99 290.62a1.5 1.5 0 1 0 3.0 0a1.5 1.5 0 1 0 -3.0 0M577.27 290.62a1.5 1.5 0 1 0 3.0 0a1.5 1.5 0 1 0 -3.0 0M584.54 290.62a1.5 1.5 0 1 0 3.0 0a1.5 1.5 0 1 0 -3.0 0M591.82 290.62a1.5 1.5 0 1 0 3.0 0a1.5 1.5 0 1 0 -3.0 0M599.09 290.62a1.5 1.5 0 1 0 3.0 0a1.5 1.5 0 1 0 -3.0 0M606.37 290.62a1.5 1.5 0 1 0 3.0 0a1.5 1.5 0 1 0 -3.0 0M573.63 297.88a1.5 1.5 0 1 0 3.0 0a1.5 1.5 0 1 0 -3.0 0M580.90 297.88a1.5 1.5 0 1 0 3.0 0a1.5 1.5 0 1 0 -3.0 0M588.18 297.88a1.5 1.5 0 1 0 3.0 0a1.5 1.5 0 1 0 -3.0 0M595.46 297.88a1.5 1.5 0 1 0 3.0 0a1.5 1.5 0 1 0 -3.0 0M602.73 297.88a1.5 1.5 0 1 0 3.0 0a1.5 1.5 0 1 0 -3.0 0M569.99 305.13a1.5 1.5 0 1 0 3.0 0a1.5 1.5 0 1 0 -3.0 0M577.27 305.13a1.5 1.5 0 1 0 3.0 0a1.5 1.5 0 1 0 -3.0 0M584.54 305.13a1.5 1.5 0 1 0 3.0 0a1.5 1.5 0 1 0 -3.0 0M591.82 305.13a1.5 1.5 0 1 0 3.0 0a1.5 1.5 0 1 0 -3.0 0M599.09 305.13a1.5 1.5 0 1 0 3.0 0a1.5 1.5 0 1 0 -3.0 0M606.37 305.13a1.5 1.5 0 1 0 3.0 0a1.5 1.5 0 1 0 -3.0 0M573.63 312.38a1.5 1.5 0 1 0 3.0 0a1.5 1.5 0 1 0 -3.0 0M580.90 312.38a1.5 1.5 0 1 0 3.0 0a1.5 1.5 0 1 0 -3.0 0M588.18 312.38a1.5 1.5 0 1 0 3.0 0a1.5 1.5 0 1 0 -3.0 0M595.46 312.38a1.5 1.5 0 1 0 3.0 0a1.5 1.5 0 1 0 -3.0 0M602.73 312.38a1.5 1.5 0 1 0 3.0 0a1.5 1.5 0 1 0 -3.0 0M569.99 319.63a1.5 1.5 0 1 0 3.0 0a1.5 1.5 0 1 0 -3.0 0M577.27 319.63a1.5 1.5 0 1 0 3.0 0a1.5 1.5 0 1 0 -3.0 0M584.54 319.63a1.5 1.5 0 1 0 3.0 0a1.5 1.5 0 1 0 -3.0 0M591.82 319.63a1.5 1.5 0 1 0 3.0 0a1.5 1.5 0 1 0 -3.0 0M599.09 319.63a1.5 1.5 0 1 0 3.0 0a1.5 1.5 0 1 0 -3.0 0M606.37 319.63a1.5 1.5 0 1 0 3.0 0a1.5 1.5 0 1 0 -3.0 0M573.63 326.88a1.5 1.5 0 1 0 3.0 0a1.5 1.5 0 1 0 -3.0 0M580.90 326.88a1.5 1.5 0 1 0 3.0 0a1.5 1.5 0 1 0 -3.0 0M588.18 326.88a1.5 1.5 0 1 0 3.0 0a1.5 1.5 0 1 0 -3.0 0M595.46 326.88a1.5 1.5 0 1 0 3.0 0a1.5 1.5 0 1 0 -3.0 0M602.73 326.88a1.5 1.5 0 1 0 3.0 0a1.5 1.5 0 1 0 -3.0 0M569.99 334.13a1.5 1.5 0 1 0 3.0 0a1.5 1.5 0 1 0 -3.0 0M577.27 334.13a1.5 1.5 0 1 0 3.0 0a1.5 1.5 0 1 0 -3.0 0M584.54 334.13a1.5 1.5 0 1 0 3.0 0a1.5 1.5 0 1 0 -3.0 0M591.82 334.13a1.5 1.5 0 1 0 3.0 0a1.5 1.5 0 1 0 -3.0 0M599.09 334.13a1.5 1.5 0 1 0 3.0 0a1.5 1.5 0 1 0 -3.0 0M606.37 334.13a1.5 1.5 0 1 0 3.0 0a1.5 1.5 0 1 0 -3.0 0M573.63 341.38a1.5 1.5 0 1 0 3.0 0a1.5 1.5 0 1 0 -3.0 0M580.90 341.38a1.5 1.5 0 1 0 3.0 0a1.5 1.5 0 1 0 -3.0 0M588.18 341.38a1.5 1.5 0 1 0 3.0 0a1.5 1.5 0 1 0 -3.0 0M595.46 341.38a1.5 1.5 0 1 0 3.0 0a1.5 1.5 0 1 0 -3.0 0M602.73 341.38a1.5 1.5 0 1 0 3.0 0a1.5 1.5 0 1 0 -3.0 0M569.99 348.64a1.5 1.5 0 1 0 3.0 0a1.5 1.5 0 1 0 -3.0 0M577.27 348.64a1.5 1.5 0 1 0 3.0 0a1.5 1.5 0 1 0 -3.0 0M584.54 348.64a1.5 1.5 0 1 0 3.0 0a1.5 1.5 0 1 0 -3.0 0M591.82 348.64a1.5 1.5 0 1 0 3.0 0a1.5 1.5 0 1 0 -3.0 0M599.09 348.64a1.5 1.5 0 1 0 3.0 0a1.5 1.5 0 1 0 -3.0 0M606.37 348.64a1.5 1.5 0 1 0 3.0 0a1.5 1.5 0 1 0 -3.0 0M573.63 355.89a1.5 1.5 0 1 0 3.0 0a1.5 1.5 0 1 0 -3.0 0M580.90 355.89a1.5 1.5 0 1 0 3.0 0a1.5 1.5 0 1 0 -3.0 0M588.18 355.89a1.5 1.5 0 1 0 3.0 0a1.5 1.5 0 1 0 -3.0 0M595.46 355.89a1.5 1.5 0 1 0 3.0 0a1.5 1.5 0 1 0 -3.0 0M602.73 355.89a1.5 1.5 0 1 0 3.0 0a1.5 1.5 0 1 0 -3.0 0M569.99 363.14a1.5 1.5 0 1 0 3.0 0a1.5 1.5 0 1 0 -3.0 0M577.27 363.14a1.5 1.5 0 1 0 3.0 0a1.5 1.5 0 1 0 -3.0 0M584.54 363.14a1.5 1.5 0 1 0 3.0 0a1.5 1.5 0 1 0 -3.0 0M591.82 363.14a1.5 1.5 0 1 0 3.0 0a1.5 1.5 0 1 0 -3.0 0M599.09 363.14a1.5 1.5 0 1 0 3.0 0a1.5 1.5 0 1 0 -3.0 0M606.37 363.14a1.5 1.5 0 1 0 3.0 0a1.5 1.5 0 1 0 -3.0 0M573.63 370.39a1.5 1.5 0 1 0 3.0 0a1.5 1.5 0 1 0 -3.0 0M580.90 370.39a1.5 1.5 0 1 0 3.0 0a1.5 1.5 0 1 0 -3.0 0M588.18 370.39a1.5 1.5 0 1 0 3.0 0a1.5 1.5 0 1 0 -3.0 0M595.46 370.39a1.5 1.5 0 1 0 3.0 0a1.5 1.5 0 1 0 -3.0 0M602.73 370.39a1.5 1.5 0 1 0 3.0 0a1.5 1.5 0 1 0 -3.0 0M420.83 36.82a1.5 1.5 0 1 0 3.0 0a1.5 1.5 0 1 0 -3.0 0M428.11 36.82a1.5 1.5 0 1 0 3.0 0a1.5 1.5 0 1 0 -3.0 0M435.38 36.82a1.5 1.5 0 1 0 3.0 0a1.5 1.5 0 1 0 -3.0 0M442.66 36.82a1.5 1.5 0 1 0 3.0 0a1.5 1.5 0 1 0 -3.0 0M449.94 36.82a1.5 1.5 0 1 0 3.0 0a1.5 1.5 0 1 0 -3.0 0M417.19 44.07a1.5 1.5 0 1 0 3.0 0a1.5 1.5 0 1 0 -3.0 0M424.47 44.07a1.5 1.5 0 1 0 3.0 0a1.5 1.5 0 1 0 -3.0 0M431.75 44.07a1.5 1.5 0 1 0 3.0 0a1.5 1.5 0 1 0 -3.0 0M439.02 44.07a1.5 1.5 0 1 0 3.0 0a1.5 1.5 0 1 0 -3.0 0M446.30 44.07a1.5 1.5 0 1 0 3.0 0a1.5 1.5 0 1 0 -3.0 0M453.57 44.07a1.5 1.5 0 1 0 3.0 0a1.5 1.5 0 1 0 -3.0 0M420.83 51.32a1.5 1.5 0 1 0 3.0 0a1.5 1.5 0 1 0 -3.0 0M428.11 51.32a1.5 1.5 0 1 0 3.0 0a1.5 1.5 0 1 0 -3.0 0M435.38 51.32a1.5 1.5 0 1 0 3.0 0a1.5 1.5 0 1 0 -3.0 0M442.66 51.32a1.5 1.5 0 1 0 3.0 0a1.5 1.5 0 1 0 -3.0 0M449.94 51.32a1.5 1.5 0 1 0 3.0 0a1.5 1.5 0 1 0 -3.0 0M551.80 7.82a1.5 1.5 0 1 0 3.0 0a1.5 1.5 0 1 0 -3.0 0M559.08 7.82a1.5 1.5 0 1 0 3.0 0a1.5 1.5 0 1 0 -3.0 0M566.35 7.82a1.5 1.5 0 1 0 3.0 0a1.5 1.5 0 1 0 -3.0 0M573.63 7.82a1.5 1.5 0 1 0 3.0 0a1.5 1.5 0 1 0 -3.0 0M580.90 7.82a1.5 1.5 0 1 0 3.0 0a1.5 1.5 0 1 0 -3.0 0M588.18 7.82a1.5 1.5 0 1 0 3.0 0a1.5 1.5 0 1 0 -3.0 0M555.44 15.07a1.5 1.5 0 1 0 3.0 0a1.5 1.5 0 1 0 -3.0 0M562.71 15.07a1.5 1.5 0 1 0 3.0 0a1.5 1.5 0 1 0 -3.0 0M569.99 15.07a1.5 1.5 0 1 0 3.0 0a1.5 1.5 0 1 0 -3.0 0M577.27 15.07a1.5 1.5 0 1 0 3.0 0a1.5 1.5 0 1 0 -3.0 0M584.54 15.07a1.5 1.5 0 1 0 3.0 0a1.5 1.5 0 1 0 -3.0 0M551.80 22.32a1.5 1.5 0 1 0 3.0 0a1.5 1.5 0 1 0 -3.0 0M559.08 22.32a1.5 1.5 0 1 0 3.0 0a1.5 1.5 0 1 0 -3.0 0M566.35 22.32a1.5 1.5 0 1 0 3.0 0a1.5 1.5 0 1 0 -3.0 0M573.63 22.32a1.5 1.5 0 1 0 3.0 0a1.5 1.5 0 1 0 -3.0 0M580.90 22.32a1.5 1.5 0 1 0 3.0 0a1.5 1.5 0 1 0 -3.0 0M588.18 22.32a1.5 1.5 0 1 0 3.0 0a1.5 1.5 0 1 0 -3.0 0" stroke="#000" stroke-width="0.85" fill="none"/>
<clipPath id="axc"><rect x="0" y="0" width="685" height="365.55"/></clipPath>
<path clip-path="url(#axc)" d="M49.4 367.55V168.49H70.9V367.55M76.38 367.55V144.85H97.88V367.55M103.36 367.55V132.74H124.86V367.55M130.34 367.55V100.96H151.84V367.55M157.32 367.55V133.34H178.82V367.55M184.3 367.55V156.61H205.8V367.55M273.8 367.55V181.33H295.3V367.55M300.78 367.55V146.18H322.28V367.55M327.76 367.55V136.9H349.26V367.55M354.74 367.55V103.74H376.24V367.55M381.72 367.55V137.08H403.22V367.55M408.7 367.55V174.88H430.2V367.55M498.3 367.55V188.2H519.8V367.55M525.28 367.55V151.19H546.78V367.55M552.26 367.55V143.11H573.76V367.55M579.24 367.55V104.22H600.74V367.55M606.22 367.55V141.9H627.72V367.55M633.2 367.55V151.85H654.7V367.55M426.3 12.2h19.5v6.5h-19.5ZM426.3 26h19.5v6.5h-19.5ZM426.3 39.8h19.5v6.5h-19.5ZM562.7 12.2h19.5v6.5h-19.5ZM562.7 26h19.5v6.5h-19.5ZM562.7 39.8h19.5v6.5h-19.5Z" stroke="#2a2a2a" stroke-width="0.8" fill="none"/>
<g font-size="6.6" fill="#111" letter-spacing="-0.2" text-anchor="middle"><text x="60.15" y="166.79" textLength="20.3" lengthAdjust="spacingAndGlyphs">0.7261</text><text x="87.13" y="143.15" textLength="20.3" lengthAdjust="spacingAndGlyphs">0.7653</text><text x="114.11" y="131.04" textLength="20.3" lengthAdjust="spacingAndGlyphs">0.7854</text><text x="141.09" y="99.26" textLength="20.3" lengthAdjust="spacingAndGlyphs">0.8381</text><text x="168.07" y="131.64" textLength="20.3" lengthAdjust="spacingAndGlyphs">0.7844</text><text x="195.05" y="154.91" textLength="20.3" lengthAdjust="spacingAndGlyphs">0.7458</text><text x="284.55" y="179.63" textLength="20.3" lengthAdjust="spacingAndGlyphs">0.7048</text><text x="311.53" y="144.48" textLength="20.3" lengthAdjust="spacingAndGlyphs">0.7631</text><text x="338.51" y="135.2" textLength="20.3" lengthAdjust="spacingAndGlyphs">0.7785</text><text x="365.49" y="102.04" textLength="20.3" lengthAdjust="spacingAndGlyphs">0.8335</text><text x="392.47" y="135.38" textLength="20.3" lengthAdjust="spacingAndGlyphs">0.7782</text><text x="419.45" y="173.18" textLength="20.3" lengthAdjust="spacingAndGlyphs">0.7155</text><text x="509.05" y="186.5" textLength="20.3" lengthAdjust="spacingAndGlyphs">0.6934</text><text x="536.03" y="149.49" textLength="20.3" lengthAdjust="spacingAndGlyphs">0.7548</text><text x="563.01" y="141.41" textLength="20.3" lengthAdjust="spacingAndGlyphs">0.7682</text><text x="589.99" y="102.52" textLength="20.3" lengthAdjust="spacingAndGlyphs">0.8327</text><text x="616.97" y="140.2" textLength="20.3" lengthAdjust="spacingAndGlyphs">0.7702</text><text x="643.95" y="150.15" textLength="20.3" lengthAdjust="spacingAndGlyphs">0.7537</text></g>
<g font-style="italic" fill="#111" stroke="#111" stroke-width="0.15"><text x="453.9" y="19.1" font-size="10.0" textLength="33.2" lengthAdjust="spacingAndGlyphs">DAMEL</text><text x="487.5" y="21" font-size="7.1" stroke-width="0.12" textLength="14.2" lengthAdjust="spacingAndGlyphs">kNN</text><text x="453.9" y="32.75" font-size="10.0" textLength="33.2" lengthAdjust="spacingAndGlyphs">DAMEL</text><text x="487.5" y="34.65" font-size="7.1" stroke-width="0.12" textLength="14.2" lengthAdjust="spacingAndGlyphs">kNN</text><text x="502.4" y="32.75" font-size="10.0" textLength="40.3" lengthAdjust="spacingAndGlyphs">(SMOTE)</text><text x="453.9" y="46.5" font-size="10.0" textLength="33.2" lengthAdjust="spacingAndGlyphs">DAMEL</text><text x="487.5" y="48.4" font-size="7.1" stroke-width="0.12" textLength="9.6" lengthAdjust="spacingAndGlyphs">DT</text><text x="590.8" y="19.1" font-size="10.0" textLength="32.9" lengthAdjust="spacingAndGlyphs">DAMEL</text><text x="624.1" y="21" font-size="7.1" stroke-width="0.12" textLength="9.6" lengthAdjust="spacingAndGlyphs">DT</text><text x="634.4" y="19.1" font-size="10.0" textLength="40.3" lengthAdjust="spacingAndGlyphs">(SMOTE)</text><text x="590.8" y="32.75" font-size="10.0" textLength="32.9" lengthAdjust="spacingAndGlyphs">DAMEL</text><text x="624.1" y="34.65" font-size="7.1" stroke-width="0.12" textLength="9.8" lengthAdjust="spacingAndGlyphs">NB</text><text x="590.8" y="46.5" font-size="10.0" textLength="32.9" lengthAdjust="spacingAndGlyphs">DAMEL</text><text x="624.1" y="48.4" font-size="7.1" stroke-width="0.12" textLength="9.8" lengthAdjust="spacingAndGlyphs">NB</text><text x="634.6" y="46.5" font-size="10.0" textLength="40.3" lengthAdjust="spacingAndGlyphs">(SMOTE)</text></g>
</svg></body></html>
